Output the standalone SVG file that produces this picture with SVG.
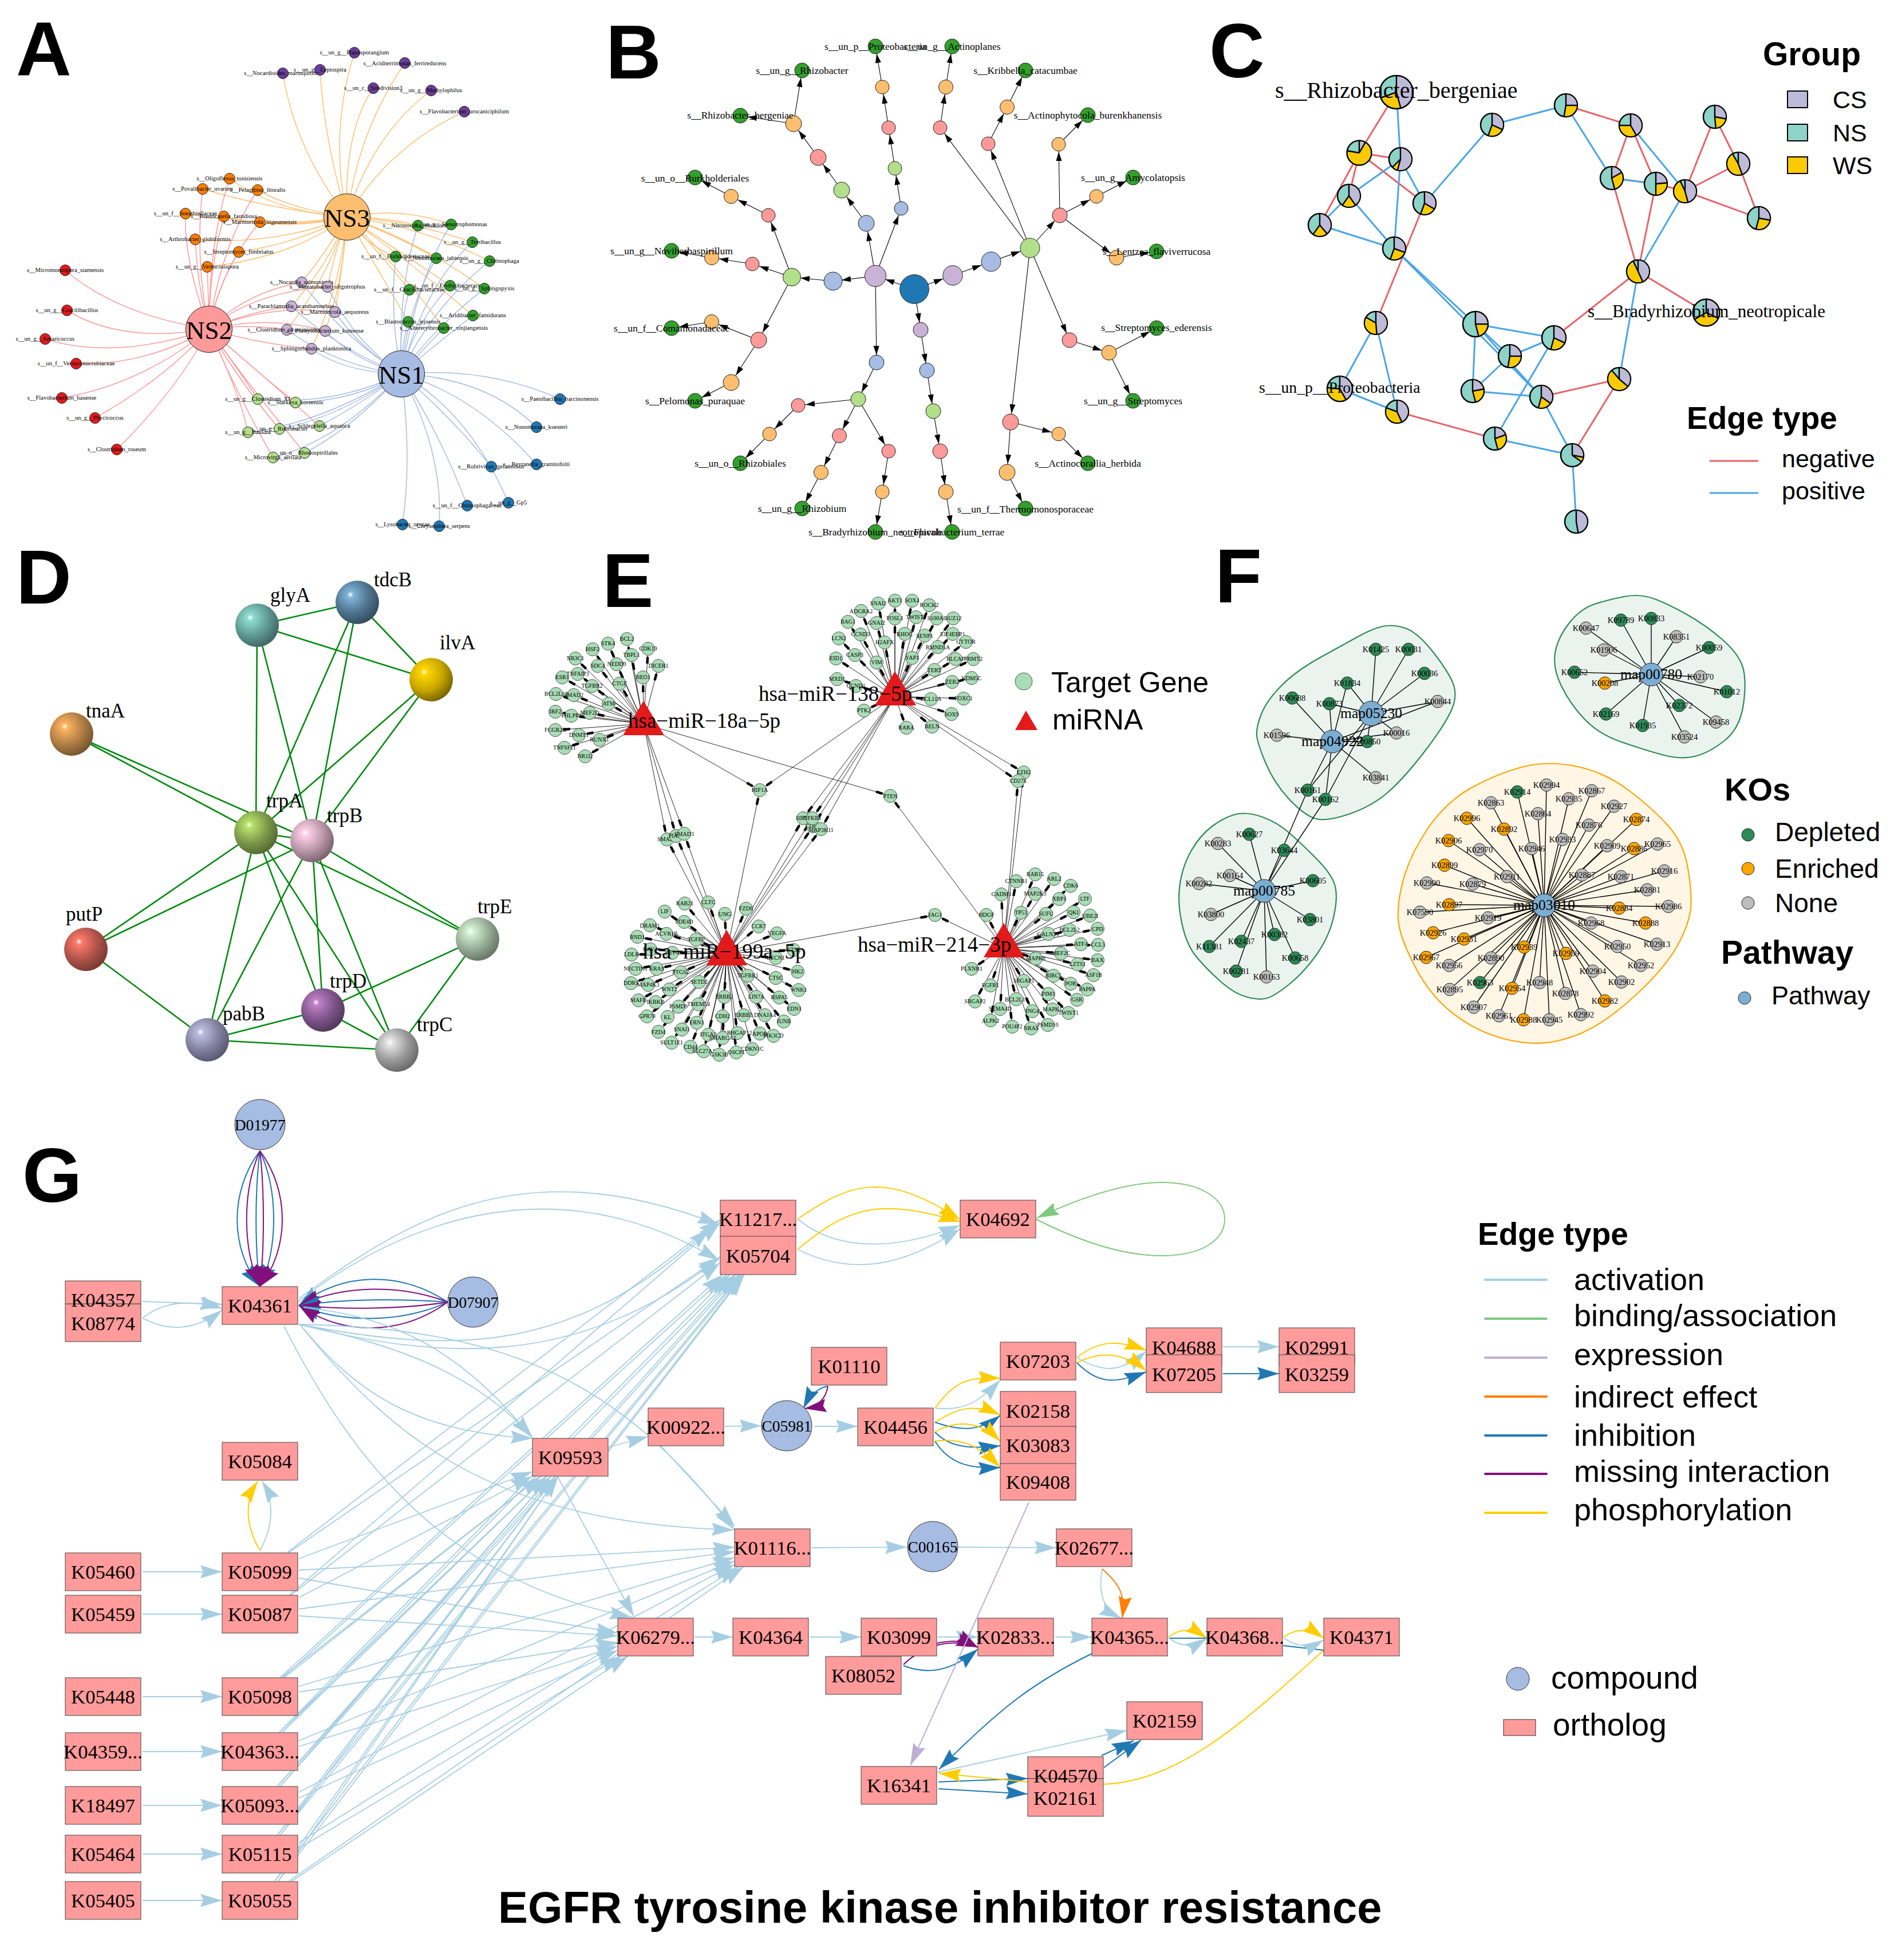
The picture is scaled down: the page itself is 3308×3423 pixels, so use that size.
<svg xmlns="http://www.w3.org/2000/svg" xmlns:xlink="http://www.w3.org/1999/xlink" width="3308" height="3423" viewBox="0 0 3308 3423">
<style>
text{font-family:"Liberation Serif","Times New Roman",serif;fill:#000;text-anchor:middle}
.s{font-family:"Liberation Sans",Arial,sans-serif;text-anchor:start}
.b{font-weight:700}
.L{font-size:134px;font-weight:700;font-family:"Liberation Sans",Arial,sans-serif;text-anchor:start}
path{fill:none}
circle{stroke:#222;stroke-width:1}
.a3{stroke:#FDBF6F;stroke-width:1.5}.a2{stroke:#FB9A99;stroke-width:1.5}.a1{stroke:#A6BCE3;stroke-width:1.5}
.at text{font-size:10.6px}.bt text{font-size:17.5px}.et text{font-size:10px}.ft text{font-size:14.5px}
.fo{fill:#FDBF6F}.fr{fill:#FB9A99}.fb{fill:#A6BCE3}.or{fill:#FF7F00}.gr{fill:#33A02C}.pu{fill:#6A3D9A}.re{fill:#E31A1C}.bl{fill:#1F78B4}.lp{fill:#CAB2D6}.lg{fill:#B2DF8A}
.bb{stroke:#000;stroke-width:1.1;marker-end:url(#mb)}.bc{stroke:#000;stroke-width:1.1;marker-end:url(#mc)}.bd{stroke:#000;stroke-width:1.1;marker-end:url(#md)}
.cn{stroke:#E8636A;stroke-width:3}.cp{stroke:#4AA5E8;stroke-width:3}
.pn{fill:#8DD3C7;stroke:#000;stroke-width:2.5;vector-effect:non-scaling-stroke}.pw{fill:none;stroke:#F9CB00;stroke-width:18.8}.pc{fill:none;stroke:#BEBADA;stroke-width:18.8}.sp{stroke:#000;stroke-width:2.4;vector-effect:non-scaling-stroke}
.d{stroke:#008A0E;stroke-width:2.6}
.dl{font-size:35px}
.e{stroke:#111;stroke-width:.9;marker-end:url(#me)}
.ec{fill:#A8DDB5;stroke:#555}
.et .el{font-size:37px;text-anchor:start}
.tr{fill:#E31A1C}
.f{stroke:#000;stroke-width:1.4}
.fd{fill:#2E8B57}.fe{fill:#FFA500}.fn{fill:#BEBEBE}.fh{fill:#7CADD2}
.ft .fm{font-size:25.6px}
.kg{fill:#EAF3EE;stroke:#2E8B57;stroke-width:2.2}.ko{fill:#FFF6E6;stroke:#FFA500;stroke-width:2.2}
.ga{stroke:#A6CEE3;stroke-width:1.8;marker-end:url(#ga)}.gy{stroke:#FFCC00;stroke-width:2;marker-end:url(#gy)}.gi{stroke:#1F78B4;stroke-width:2;marker-end:url(#gi)}.gm{stroke:#810F7C;stroke-width:2;marker-end:url(#gm)}.gg{stroke:#7FC97F;stroke-width:2;marker-end:url(#gg)}.go{stroke:#FF7F00;stroke-width:2;marker-end:url(#go)}.ge{stroke:#BEAED4;stroke-width:2;marker-end:url(#ge)}
.r{fill:#FF9B9B;stroke:#444;stroke-width:1}
.g text{font-size:34.7px}
.gc{fill:#A6BCE2;stroke:#333}
.lg1{font-size:54px}
</style>
<defs>
<marker id="mb" markerUnits="userSpaceOnUse" markerWidth="16" markerHeight="10" refX="29" refY="5" orient="auto" overflow="visible"><path d="M0 0L16 5L0 10Z" style="fill:#000"/></marker>
<marker id="mc" markerUnits="userSpaceOnUse" markerWidth="16" markerHeight="10" refX="31" refY="5" orient="auto" overflow="visible"><path d="M0 0L16 5L0 10Z" style="fill:#000"/></marker>
<marker id="md" markerUnits="userSpaceOnUse" markerWidth="16" markerHeight="10" refX="34" refY="5" orient="auto" overflow="visible"><path d="M0 0L16 5L0 10Z" style="fill:#000"/></marker>
<marker id="me" markerUnits="userSpaceOnUse" markerWidth="13" markerHeight="5" refX="26" refY="2.5" orient="auto" overflow="visible"><path d="M0 .3H11L13 2.5L11 4.7H0Z" style="fill:#000"/></marker>
<marker id="ga" markerUnits="userSpaceOnUse" markerWidth="38" markerHeight="23" refX="38" refY="11.5" orient="auto" overflow="visible"><path d="M0 0L38 11.5L0 23L5 11.5Z" style="fill:#A6CEE3"/></marker>
<marker id="gy" markerUnits="userSpaceOnUse" markerWidth="38" markerHeight="23" refX="38" refY="11.5" orient="auto" overflow="visible"><path d="M0 0L38 11.5L0 23L5 11.5Z" style="fill:#FFCC00"/></marker>
<marker id="gi" markerUnits="userSpaceOnUse" markerWidth="38" markerHeight="23" refX="38" refY="11.5" orient="auto" overflow="visible"><path d="M0 0L38 11.5L0 23L5 11.5Z" style="fill:#1F78B4"/></marker>
<marker id="gm" markerUnits="userSpaceOnUse" markerWidth="38" markerHeight="23" refX="38" refY="11.5" orient="auto" overflow="visible"><path d="M0 0L38 11.5L0 23L5 11.5Z" style="fill:#810F7C"/></marker>
<marker id="gg" markerUnits="userSpaceOnUse" markerWidth="38" markerHeight="23" refX="38" refY="11.5" orient="auto" overflow="visible"><path d="M0 0L38 11.5L0 23L5 11.5Z" style="fill:#7FC97F"/></marker>
<marker id="go" markerUnits="userSpaceOnUse" markerWidth="38" markerHeight="23" refX="38" refY="11.5" orient="auto" overflow="visible"><path d="M0 0L38 11.5L0 23L5 11.5Z" style="fill:#FF7F00"/></marker>
<marker id="ge" markerUnits="userSpaceOnUse" markerWidth="38" markerHeight="23" refX="38" refY="11.5" orient="auto" overflow="visible"><path d="M0 0L38 11.5L0 23L5 11.5Z" style="fill:#BEAED4"/></marker>
<path id="sp" class="sp" d="M0 0V-20"/>
<radialGradient id="s1" cx=".38" cy=".36" r=".72" fx=".34" fy=".32"><stop offset="0" stop-color="#fff"/><stop offset=".1" stop-color="#8fdcd0"/><stop offset=".55" stop-color="#5f9a95"/><stop offset="1" stop-color="#3a5d5b"/></radialGradient>
<radialGradient id="s2" cx=".38" cy=".36" r=".72" fx=".34" fy=".32"><stop offset="0" stop-color="#fff"/><stop offset=".1" stop-color="#80b4d8"/><stop offset=".55" stop-color="#4f7590"/><stop offset="1" stop-color="#2f4557"/></radialGradient>
<radialGradient id="s3" cx=".38" cy=".36" r=".72" fx=".34" fy=".32"><stop offset="0" stop-color="#fff"/><stop offset=".1" stop-color="#ffd700"/><stop offset=".55" stop-color="#c9a800"/><stop offset="1" stop-color="#6a5800"/></radialGradient>
<radialGradient id="s4" cx=".38" cy=".36" r=".72" fx=".34" fy=".32"><stop offset="0" stop-color="#fff"/><stop offset=".1" stop-color="#ffb35f"/><stop offset=".55" stop-color="#b07f45"/><stop offset="1" stop-color="#6b4d2a"/></radialGradient>
<radialGradient id="s5" cx=".38" cy=".36" r=".72" fx=".34" fy=".32"><stop offset="0" stop-color="#fff"/><stop offset=".1" stop-color="#b9e36a"/><stop offset=".55" stop-color="#7d9a4a"/><stop offset="1" stop-color="#4c5f2e"/></radialGradient>
<radialGradient id="s6" cx=".38" cy=".36" r=".72" fx=".34" fy=".32"><stop offset="0" stop-color="#fff"/><stop offset=".1" stop-color="#ffd0e8"/><stop offset=".55" stop-color="#bb98a9"/><stop offset="1" stop-color="#6d5866"/></radialGradient>
<radialGradient id="s7" cx=".38" cy=".36" r=".72" fx=".34" fy=".32"><stop offset="0" stop-color="#fff"/><stop offset=".1" stop-color="#ff7a6b"/><stop offset=".55" stop-color="#b0534a"/><stop offset="1" stop-color="#6d342d"/></radialGradient>
<radialGradient id="s8" cx=".38" cy=".36" r=".72" fx=".34" fy=".32"><stop offset="0" stop-color="#fff"/><stop offset=".1" stop-color="#d5f2d5"/><stop offset=".55" stop-color="#96ad96"/><stop offset="1" stop-color="#5c6b5c"/></radialGradient>
<radialGradient id="s9" cx=".38" cy=".36" r=".72" fx=".34" fy=".32"><stop offset="0" stop-color="#fff"/><stop offset=".1" stop-color="#c080c8"/><stop offset=".55" stop-color="#7d5489"/><stop offset="1" stop-color="#4a3353"/></radialGradient>
<radialGradient id="s10" cx=".38" cy=".36" r=".72" fx=".34" fy=".32"><stop offset="0" stop-color="#fff"/><stop offset=".1" stop-color="#bcbce0"/><stop offset=".55" stop-color="#82829f"/><stop offset="1" stop-color="#50506a"/></radialGradient>
<radialGradient id="s11" cx=".38" cy=".36" r=".72" fx=".34" fy=".32"><stop offset="0" stop-color="#fff"/><stop offset=".1" stop-color="#e4e4e4"/><stop offset=".55" stop-color="#9a9a9a"/><stop offset="1" stop-color="#606060"/></radialGradient>
</defs>
<rect width="3308" height="3423" fill="#fff"/>
<text class="L" x="28" y="132">A</text><text class="L" x="1058" y="137">B</text><text class="L" x="2112" y="135">C</text><text class="L" x="28" y="1054">D</text><text class="L" x="1052" y="1060">E</text><text class="L" x="2122" y="1052">F</text><text class="L" x="39" y="2099">G</text>

<g id="panelA">
<g id="A-connectors">
<g class="a3"><path d="M606 379Q515 260 494 128"/><path d="M606 379Q575 230 619 92"/><path d="M606 379Q565 240 559 122"/><path d="M606 379Q600 230 652 154"/><path d="M606 379Q625 230 707 110"/><path d="M606 379Q650 235 753 158"/><path d="M606 379Q680 255 811 195"/>
<path d="M606 379Q470 365 354 330"/><path d="M606 379Q510 365 450 332"/><path d="M606 379Q480 370 401 312"/><path d="M606 379Q470 400 324 373"/><path d="M606 379Q500 405 391 378"/><path d="M606 379Q530 395 454 388"/><path d="M606 379Q480 430 341 418"/><path d="M606 379Q520 425 417 440"/><path d="M606 379Q510 450 362 466"/>
<path d="M606 379Q680 380 730 394"/><path d="M606 379Q700 360 788 392"/><path d="M606 379Q715 385 825 423"/><path d="M606 379Q735 395 855 456"/><path d="M606 379Q640 430 691 448"/><path d="M606 379Q690 410 762 451"/><path d="M606 379Q700 440 786 499"/><path d="M606 379Q730 420 846 504"/><path d="M606 379Q660 440 715 506"/><path d="M606 379Q720 460 826 551"/><path d="M606 379Q660 470 713 562"/><path d="M606 379Q700 470 775 573"/>
<path d="M606 379Q570 440 527 493"/><path d="M606 379Q585 440 572 501"/><path d="M606 379Q575 460 509 535"/><path d="M606 379Q600 460 585 545"/><path d="M606 379Q570 490 501 576"/><path d="M606 379Q600 490 568 578"/><path d="M606 379Q595 500 544 609"/></g>
<g class="a2"><path d="M365 575Q321 456 324 373"/><path d="M365 575Q340 450 354 330"/><path d="M365 575Q365 420 401 312"/><path d="M365 575Q385 430 450 332"/><path d="M365 575Q365 470 391 378"/><path d="M365 575Q385 470 454 388"/><path d="M365 575Q345 500 341 418"/><path d="M365 575Q380 500 417 440"/><path d="M365 575Q364 520 362 466"/>
<path d="M365 575Q430 510 527 493"/><path d="M365 575Q440 510 572 501"/><path d="M365 575Q430 545 509 535"/><path d="M365 575Q470 530 585 545"/><path d="M365 575Q430 565 501 576"/><path d="M365 575Q470 550 568 578"/><path d="M365 575Q450 600 544 609"/>
<path d="M365 575Q420 650 450 697"/><path d="M365 575Q450 650 516 703"/><path d="M365 575Q470 665 558 744"/><path d="M365 575Q420 670 488 749"/><path d="M365 575Q420 690 433 755"/><path d="M365 575Q440 680 532 791"/><path d="M365 575Q420 700 477 799"/>
<path d="M365 575Q205 550 114 472"/><path d="M365 575Q210 600 117 542"/><path d="M365 575Q200 630 79 592"/><path d="M365 575Q250 640 133 635"/><path d="M365 575Q250 670 108 695"/><path d="M365 575Q290 660 166 730"/><path d="M365 575Q310 680 204 785"/></g>
<g class="a1"><path d="M701 653Q695 500 730 394"/><path d="M701 653Q730 480 788 392"/><path d="M701 653Q740 500 825 423"/><path d="M701 653Q750 540 855 456"/><path d="M701 653Q680 550 691 448"/><path d="M701 653Q710 540 762 451"/><path d="M701 653Q720 570 786 499"/><path d="M701 653Q750 580 846 504"/><path d="M701 653Q695 580 715 506"/><path d="M701 653Q750 610 826 551"/><path d="M701 653Q700 610 713 562"/><path d="M701 653Q725 625 775 573"/>
<path d="M701 653Q600 590 527 493"/><path d="M701 653Q620 600 572 501"/><path d="M701 653Q590 610 509 535"/><path d="M701 653Q630 610 585 545"/><path d="M701 653Q590 640 501 576"/><path d="M701 653Q620 630 568 578"/><path d="M701 653Q600 650 544 609"/>
<path d="M701 653Q580 710 450 697"/><path d="M701 653Q620 700 516 703"/><path d="M701 653Q640 700 558 744"/><path d="M701 653Q590 730 488 749"/><path d="M701 653Q560 740 433 755"/><path d="M701 653Q620 745 532 791"/><path d="M701 653Q590 770 477 799"/>
<path d="M701 653Q850 640 978 697"/><path d="M701 653Q850 660 937 746"/><path d="M701 653Q830 690 937 811"/><path d="M701 653Q790 730 858 815"/><path d="M701 653Q770 760 816 883"/><path d="M701 653Q820 720 888 878"/><path d="M701 653Q720 800 703 916"/><path d="M701 653Q775 790 767 919"/></g>
</g>
<g id="A-nodes" class="at">
<g id="A-NS3"><circle class="fo" cx="606" cy="379" r="40.6"/><text x="606" y="396" style="font-size:45px">NS3</text></g>
<g id="A-NS2"><circle class="fr" cx="365" cy="575" r="40.6"/><text x="365" y="592" style="font-size:45px">NS2</text></g>
<g id="A-NS1"><circle class="fb" cx="701" cy="653" r="40.6"/><text x="701" y="670" style="font-size:45px">NS1</text></g>
<g id="A-p1"><circle class="pu" cx="619" cy="92" r="9.5"/><text x="619" y="95">s__un_g__Planosporangium</text></g>
<g id="A-p2"><circle class="pu" cx="707" cy="110" r="9.5"/><text x="707" y="114">s__Aciditerrimonas_ferrireducens</text></g>
<g id="A-p3"><circle class="pu" cx="494" cy="128" r="9.5"/><text x="494" y="131">s__Nocardioides_marinquilinus</text></g>
<g id="A-p4"><circle class="pu" cx="559" cy="122" r="9.5"/><text x="559" y="125">s__un_g__Leptospira</text></g>
<g id="A-p5"><circle class="pu" cx="652" cy="154" r="9.5"/><text x="652" y="157">s__un_c__Subdivision3</text></g>
<g id="A-p6"><circle class="pu" cx="753" cy="158" r="9.5"/><text x="753" y="161">s__un_g__Methylophilus</text></g>
<g id="A-p7"><circle class="pu" cx="811" cy="195" r="9.5"/><text x="811" y="198">s__Flavobacterium_urocaniciphilum</text></g>
<g id="A-o1"><circle class="or" cx="401" cy="312" r="9.5"/><text x="401" y="315">s__Oligoflexus_tunisiensis</text></g>
<g id="A-o2"><circle class="or" cx="354" cy="330" r="9.5"/><text x="354" y="333">s__Povalibacter_uvarum</text></g>
<g id="A-o3"><circle class="or" cx="450" cy="332" r="9.5"/><text x="450" y="335">s__Pelagibius_litoralis</text></g>
<g id="A-o4"><circle class="or" cx="324" cy="373" r="9.5"/><text x="324" y="376">s__un_f__Sneathiellaceae</text></g>
<g id="A-o5"><circle class="or" cx="391" cy="378" r="9.5"/><text x="391" y="381">s__Blastocatella_fastidiosa</text></g>
<g id="A-o6"><circle class="or" cx="454" cy="388" r="9.5"/><text x="454" y="391">s__Marmoricola_bigeumensis</text></g>
<g id="A-o7"><circle class="or" cx="341" cy="418" r="9.5"/><text x="341" y="421">s__Arthrobacter_globiformis</text></g>
<g id="A-o8"><circle class="or" cx="417" cy="440" r="9.5"/><text x="417" y="443">s__Streptomyces_fimbriatus</text></g>
<g id="A-o9"><circle class="or" cx="362" cy="466" r="9.5"/><text x="362" y="469">s__un_g__Verrucosispora</text></g>
<g id="A-r1"><circle class="re" cx="114" cy="472" r="9.5"/><text x="114" y="475">s__Micromonospora_siamensis</text></g>
<g id="A-r2"><circle class="re" cx="117" cy="542" r="9.5"/><text x="117" y="545">s__un_g__Gracilibacillus</text></g>
<g id="A-r3"><circle class="re" cx="79" cy="592" r="9.5"/><text x="79" y="595">s__un_g__Amaricoccus</text></g>
<g id="A-r4"><circle class="re" cx="133" cy="635" r="9.5"/><text x="133" y="638">s__un_f__Verrucomicrobiaceae</text></g>
<g id="A-r5"><circle class="re" cx="108" cy="695" r="9.5"/><text x="108" y="698">s__Flavobacterium_hauense</text></g>
<g id="A-r6"><circle class="re" cx="166" cy="730" r="9.5"/><text x="166" y="733">s__un_g__Phycicoccus</text></g>
<g id="A-r7"><circle class="re" cx="204" cy="785" r="9.5"/><text x="204" y="788">s__Clostridium_roseum</text></g>
<g id="A-g1"><circle class="gr" cx="730" cy="394" r="9.5"/><text x="730" y="397">s__Nitrosospira_multiformis</text></g>
<g id="A-g2"><circle class="gr" cx="788" cy="392" r="9.5"/><text x="788" y="395">s__un_g__Stenotrophomonas</text></g>
<g id="A-g3"><circle class="gr" cx="825" cy="423" r="9.5"/><text x="825" y="426">s__un_g__Terribacillus</text></g>
<g id="A-g4"><circle class="gr" cx="855" cy="456" r="9.5"/><text x="855" y="459">s__un_g__Chitinophaga</text></g>
<g id="A-g5"><circle class="gr" cx="691" cy="448" r="9.5"/><text x="691" y="451">s__un_f__Burkholderiaceae</text></g>
<g id="A-g6"><circle class="gr" cx="762" cy="451" r="9.5"/><text x="762" y="454">s__Nonomuraea_jabiensis</text></g>
<g id="A-g7"><circle class="gr" cx="786" cy="499" r="9.5"/><text x="786" y="502">s__un_f__Erythrobacteraceae</text></g>
<g id="A-g8"><circle class="gr" cx="846" cy="504" r="9.5"/><text x="846" y="507">s__un_g__Sphingopyxis</text></g>
<g id="A-g9"><circle class="gr" cx="715" cy="506" r="9.5"/><text x="715" y="509">s__un_f__Gracilibacteraceae</text></g>
<g id="A-g10"><circle class="gr" cx="826" cy="551" r="9.5"/><text x="826" y="554">s__Aridibacter_famidurans</text></g>
<g id="A-g11"><circle class="gr" cx="713" cy="562" r="9.5"/><text x="713" y="565">s__Blastococcus_jejuensis</text></g>
<g id="A-g12"><circle class="gr" cx="775" cy="573" r="9.5"/><text x="775" y="576">s__Altererythrobacter_xinjiangensis</text></g>
<g id="A-l1"><circle class="lp" cx="527" cy="493" r="9.5"/><text x="527" y="496">s__Nocardia_salmonicida</text></g>
<g id="A-l2"><circle class="lp" cx="572" cy="501" r="9.5"/><text x="572" y="504">s__Phreatobacter_oligotrophus</text></g>
<g id="A-l3"><circle class="lp" cx="509" cy="535" r="9.5"/><text x="509" y="538">s__Parachlamydia_acanthamoebae</text></g>
<g id="A-l4"><circle class="lp" cx="585" cy="545" r="9.5"/><text x="585" y="548">s__Marmoricola_aequoreus</text></g>
<g id="A-l5"><circle class="lp" cx="501" cy="576" r="9.5"/><text x="501" y="579">s__Clostridium_straminisolvens</text></g>
<g id="A-l6"><circle class="lp" cx="568" cy="578" r="9.5"/><text x="568" y="581">s__Phenylobacterium_koreense</text></g>
<g id="A-l7"><circle class="lp" cx="544" cy="609" r="9.5"/><text x="544" y="612">s__Sphingorhabdus_planktonica</text></g>
<g id="A-h1"><circle class="lg" cx="450" cy="697" r="9.5"/><text x="450" y="700">s__un_g__Clostridium_XI</text></g>
<g id="A-h2"><circle class="lg" cx="516" cy="703" r="9.5"/><text x="516" y="706">s__Starkeya_koreensis</text></g>
<g id="A-h3"><circle class="lg" cx="558" cy="744" r="9.5"/><text x="558" y="747">s__Schlegelella_aquatica</text></g>
<g id="A-h4"><circle class="lg" cx="488" cy="749" r="9.5"/><text x="488" y="752">s__un_g__Rubrobacter</text></g>
<g id="A-h5"><circle class="lg" cx="433" cy="755" r="9.5"/><text x="433" y="758">s__un_g__Bauldia</text></g>
<g id="A-h6"><circle class="lg" cx="532" cy="791" r="9.5"/><text x="532" y="794">s__un_o__Rhodospirillales</text></g>
<g id="A-h7"><circle class="lg" cx="477" cy="799" r="9.5"/><text x="477" y="802">s__Microvirga_aerilata</text></g>
<g id="A-b1"><circle class="bl" cx="978" cy="697" r="9.5"/><text x="978" y="700">s__Paenibacillus_barcinonensis</text></g>
<g id="A-b2"><circle class="bl" cx="937" cy="746" r="9.5"/><text x="937" y="749">s__Nonomuraea_kuesteri</text></g>
<g id="A-b3"><circle class="bl" cx="937" cy="811" r="9.5"/><text x="937" y="814">s__Reyranella_graminifolii</text></g>
<g id="A-b4"><circle class="bl" cx="858" cy="815" r="9.5"/><text x="858" y="818">s__Rubrivivax_gelatinosus</text></g>
<g id="A-b5"><circle class="bl" cx="816" cy="883" r="9.5"/><text x="816" y="886">s__un_f__Chitinophagaceae</text></g>
<g id="A-b6"><circle class="bl" cx="888" cy="878" r="9.5"/><text x="888" y="881">s__un_g__Gp5</text></g>
<g id="A-b7"><circle class="bl" cx="703" cy="916" r="9.5"/><text x="703" y="919">s__Lysobacter_oryzae</text></g>
<g id="A-b8"><circle class="bl" cx="767" cy="919" r="9.5"/><text x="767" y="922">s__Chryseolinea_serpens</text></g>
</g>
</g>

<g id="panelB">
<g id="B-connectors">
<path class="bd" d="M1597 505L1529 482"/><path class="bd" d="M1597 505L1664 481"/><path class="bb" d="M1597 505L1608 576"/>
<path class="bc" d="M1529 482L1455 491"/><path class="bc" d="M1529 482L1513 390"/><path class="bb" d="M1529 482L1574 364"/><path class="bb" d="M1529 482L1531 633"/><path class="bd" d="M1664 481L1731 457"/><path class="bb" d="M1608 576L1619 647"/>
<path class="bc" d="M1455 491L1383 484"/><path class="bc" d="M1513 390L1470 332"/><path class="bb" d="M1574 364L1563 294"/><path class="bb" d="M1531 633L1499 697"/><path class="bb" d="M1619 647L1630 718"/><path class="bd" d="M1731 457L1799 433"/>
<path class="bb" d="M1383 484L1314 461"/><path class="bb" d="M1383 484L1342 376"/><path class="bc" d="M1383 484L1325 594"/><path class="bc" d="M1470 332L1429 275"/><path class="bb" d="M1563 294L1552 223"/><path class="bb" d="M1499 697L1394 708"/><path class="bb" d="M1499 697L1466 761"/><path class="bb" d="M1499 697L1552 788"/><path class="bb" d="M1630 718L1642 788"/>
<path class="bb" d="M1799 433L1642 223"/><path class="bb" d="M1799 433L1726 251"/><path class="bb" d="M1799 433L1851 376"/><path class="bb" d="M1799 433L1868 594"/><path class="bc" d="M1799 433L1765 737"/>
<path class="bb" d="M1314 461L1243 450"/><path class="bb" d="M1342 376L1277 343"/><path class="bb" d="M1325 594L1243 562"/><path class="bc" d="M1325 594L1277 668"/><path class="bc" d="M1429 275L1386 216"/><path class="bb" d="M1552 223L1541 152"/><path class="bb" d="M1642 223L1652 152"/><path class="bb" d="M1726 251L1759 187"/><path class="bb" d="M1851 376L1849 252"/><path class="bb" d="M1851 376L1915 343"/><path class="bb" d="M1851 376L1950 450"/><path class="bb" d="M1868 594L1937 616"/><path class="bb" d="M1765 737L1849 758"/><path class="bc" d="M1765 737L1759 825"/><path class="bb" d="M1394 708L1344 758"/><path class="bb" d="M1466 761L1434 825"/><path class="bb" d="M1552 788L1541 859"/><path class="bb" d="M1642 788L1652 859"/>
<path class="bb" d="M1243 450L1173 438"/><path class="bb" d="M1277 343L1214 310"/><path class="bb" d="M1243 562L1173 573"/><path class="bb" d="M1277 668L1214 700"/><path class="bb" d="M1386 216L1293 202"/><path class="bb" d="M1386 216L1401 123"/><path class="bb" d="M1541 152L1529 81"/><path class="bb" d="M1652 152L1663 81"/><path class="bb" d="M1759 187L1791 123"/><path class="bb" d="M1849 252L1900 201"/><path class="bb" d="M1915 343L1979 310"/><path class="bb" d="M1950 450L2020 439"/><path class="bb" d="M1937 616L2020 573"/><path class="bb" d="M1937 616L1979 700"/><path class="bb" d="M1849 758L1900 809"/><path class="bb" d="M1759 825L1791 888"/><path class="bb" d="M1652 859L1663 929"/><path class="bb" d="M1541 859L1529 929"/><path class="bb" d="M1434 825L1401 888"/><path class="bb" d="M1344 758L1293 809"/>
</g>
<g id="B-nodes" class="bt">
<g id="B-root"><circle class="bl" cx="1597" cy="505" r="25.3"/></g>
<g id="B-p1"><circle class="lp" cx="1529" cy="482" r="18.6"/></g><g id="B-p2"><circle class="lp" cx="1664" cy="481" r="17.2"/></g><g id="B-p3"><circle class="lp" cx="1608" cy="576" r="13"/></g>
<g id="B-l1"><circle class="fb" cx="1455" cy="491" r="16"/></g><g id="B-l2"><circle class="fb" cx="1513" cy="390" r="14"/></g><g id="B-l3"><circle class="fb" cx="1574" cy="364" r="12"/></g><g id="B-l4"><circle class="fb" cx="1531" cy="633" r="13"/></g><g id="B-l5"><circle class="fb" cx="1619" cy="647" r="13"/></g><g id="B-l6"><circle class="fb" cx="1731" cy="457" r="17"/></g>
<g id="B-g1"><circle class="lg" cx="1383" cy="484" r="15.5"/></g><g id="B-g2"><circle class="lg" cx="1470" cy="332" r="14"/></g><g id="B-g3"><circle class="lg" cx="1563" cy="294" r="12"/></g><g id="B-g4"><circle class="lg" cx="1499" cy="697" r="13"/></g><g id="B-g5"><circle class="lg" cx="1630" cy="718" r="13"/></g><g id="B-g6"><circle class="lg" cx="1799" cy="433" r="17"/></g>
<g id="B-r1"><circle class="fr" cx="1314" cy="461" r="12"/></g><g id="B-r2"><circle class="fr" cx="1342" cy="376" r="12"/></g><g id="B-r3"><circle class="fr" cx="1325" cy="594" r="14"/></g><g id="B-r4"><circle class="fr" cx="1429" cy="275" r="14"/></g><g id="B-r5"><circle class="fr" cx="1552" cy="223" r="12"/></g><g id="B-r6"><circle class="fr" cx="1642" cy="223" r="12"/></g><g id="B-r7"><circle class="fr" cx="1726" cy="251" r="12"/></g><g id="B-r8"><circle class="fr" cx="1851" cy="376" r="13"/></g><g id="B-r9"><circle class="fr" cx="1868" cy="594" r="13"/></g><g id="B-r10"><circle class="fr" cx="1765" cy="737" r="14"/></g><g id="B-r11"><circle class="fr" cx="1394" cy="708" r="12"/></g><g id="B-r12"><circle class="fr" cx="1466" cy="761" r="12.5"/></g><g id="B-r13"><circle class="fr" cx="1552" cy="788" r="12"/></g><g id="B-r14"><circle class="fr" cx="1642" cy="788" r="13"/></g>
<g id="B-o1"><circle class="fo" cx="1243" cy="450" r="12.5"/></g><g id="B-o2"><circle class="fo" cx="1277" cy="343" r="12.5"/></g><g id="B-o3"><circle class="fo" cx="1243" cy="562" r="12.5"/></g><g id="B-o4"><circle class="fo" cx="1277" cy="668" r="14"/></g><g id="B-o5"><circle class="fo" cx="1386" cy="216" r="14"/></g><g id="B-o6"><circle class="fo" cx="1541" cy="152" r="12"/></g><g id="B-o7"><circle class="fo" cx="1652" cy="152" r="12.5"/></g><g id="B-o8"><circle class="fo" cx="1759" cy="187" r="12.5"/></g><g id="B-o9"><circle class="fo" cx="1849" cy="252" r="12"/></g><g id="B-o10"><circle class="fo" cx="1915" cy="343" r="12"/></g><g id="B-o11"><circle class="fo" cx="1950" cy="450" r="13"/></g><g id="B-o12"><circle class="fo" cx="1937" cy="616" r="13"/></g><g id="B-o13"><circle class="fo" cx="1849" cy="758" r="12"/></g><g id="B-o14"><circle class="fo" cx="1759" cy="825" r="14"/></g><g id="B-o15"><circle class="fo" cx="1652" cy="859" r="13"/></g><g id="B-o16"><circle class="fo" cx="1541" cy="859" r="12"/></g><g id="B-o17"><circle class="fo" cx="1434" cy="825" r="12.5"/></g><g id="B-o18"><circle class="fo" cx="1344" cy="758" r="12"/></g>
<g id="B-t1"><circle class="gr" cx="1173" cy="438" r="13"/><text x="1173" y="444">s__un_g__Noviherbaspirillum</text></g>
<g id="B-t2"><circle class="gr" cx="1214" cy="310" r="13"/><text x="1214" y="317">s__un_o__Burkholderiales</text></g>
<g id="B-t3"><circle class="gr" cx="1173" cy="573" r="13"/><text x="1173" y="579">s__un_f__Comamonadaceae</text></g>
<g id="B-t4"><circle class="gr" cx="1214" cy="700" r="13"/><text x="1214" y="706">s__Pelomonas_puraquae</text></g>
<g id="B-t5"><circle class="gr" cx="1293" cy="202" r="13"/><text x="1293" y="207">s__Rhizobacter_bergeniae</text></g>
<g id="B-t6"><circle class="gr" cx="1401" cy="123" r="13"/><text x="1401" y="129">s__un_g__Rhizobacter</text></g>
<g id="B-t7"><circle class="gr" cx="1529" cy="81" r="13"/><text x="1529" y="87">s__un_p__Proteobacteria</text></g>
<g id="B-t8"><circle class="gr" cx="1663" cy="81" r="13"/><text x="1663" y="87">s__un_g__Actinoplanes</text></g>
<g id="B-t9"><circle class="gr" cx="1791" cy="123" r="13"/><text x="1791" y="129">s__Kribbella_catacumbae</text></g>
<g id="B-t10"><circle class="gr" cx="1900" cy="201" r="13"/><text x="1900" y="207">s__Actinophytocola_burenkhanensis</text></g>
<g id="B-t11"><circle class="gr" cx="1979" cy="310" r="13"/><text x="1979" y="316">s__un_g__Amycolatopsis</text></g>
<g id="B-t12"><circle class="gr" cx="2020" cy="439" r="13"/><text x="2020" y="445">s__Lentzea_flaviverrucosa</text></g>
<g id="B-t13"><circle class="gr" cx="2020" cy="573" r="13"/><text x="2020" y="578">s__Streptomyces_ederensis</text></g>
<g id="B-t14"><circle class="gr" cx="1979" cy="700" r="13"/><text x="1979" y="706">s__un_g__Streptomyces</text></g>
<g id="B-t15"><circle class="gr" cx="1900" cy="809" r="13"/><text x="1900" y="815">s__Actinocorallia_herbida</text></g>
<g id="B-t16"><circle class="gr" cx="1791" cy="888" r="13"/><text x="1791" y="895">s__un_f__Thermomonosporaceae</text></g>
<g id="B-t17"><circle class="gr" cx="1663" cy="929" r="13"/><text x="1663" y="935">s__Flavobacterium_terrae</text></g>
<g id="B-t18"><circle class="gr" cx="1529" cy="929" r="13"/><text x="1529" y="935">s__Bradyrhizobium_neotropicale</text></g>
<g id="B-t19"><circle class="gr" cx="1401" cy="888" r="13"/><text x="1401" y="894">s__un_g__Rhizobium</text></g>
<g id="B-t20"><circle class="gr" cx="1293" cy="809" r="13"/><text x="1293" y="815">s__un_o__Rhizobiales</text></g>
</g>
</g>

<g id="panelC">
<g id="C-connectors">
<path class="cn" d="M2439 161L2374 267"/><path class="cn" d="M2374 267L2446 278"/><path class="cn" d="M2374 267L2356 342"/><path class="cn" d="M2374 267L2305 393"/><path class="cn" d="M2374 267L2488 355"/><path class="cn" d="M2488 355L2403 564"/><path class="cn" d="M2735 184L2848 219"/><path class="cn" d="M2848 219L2815 311"/><path class="cn" d="M2848 219L2892 321"/><path class="cn" d="M2815 311L2892 321"/><path class="cn" d="M2892 321L2943 334"/><path class="cn" d="M2943 334L3036 286"/><path class="cn" d="M2943 334L3072 381"/><path class="cn" d="M2995 204L2943 334"/><path class="cn" d="M2995 204L3036 286"/><path class="cn" d="M3036 286L3072 381"/><path class="cn" d="M2815 311L2861 474"/><path class="cn" d="M2892 321L2861 474"/><path class="cn" d="M2861 474L2980 546"/><path class="cn" d="M2861 474L2714 590"/><path class="cn" d="M2692 693L2828 662"/><path class="cn" d="M2828 662L2746 795"/><path class="cn" d="M2440 719L2611 766"/>
<path class="cp" d="M2439 161L2446 278"/><path class="cp" d="M2446 278L2435 434"/><path class="cp" d="M2446 278L2356 342"/><path class="cp" d="M2446 278L2488 355"/><path class="cp" d="M2356 342L2305 393"/><path class="cp" d="M2356 342L2435 434"/><path class="cp" d="M2305 393L2435 434"/><path class="cp" d="M2488 355L2606 218"/><path class="cp" d="M2606 218L2735 184"/><path class="cp" d="M2735 184L2815 311"/><path class="cp" d="M2848 219L2943 334"/><path class="cp" d="M2815 311L2892 321"/><path class="cp" d="M2943 334L2861 474"/><path class="cp" d="M2435 434L2577 566"/><path class="cp" d="M2435 434L2692 693"/><path class="cp" d="M2577 566L2714 590"/><path class="cp" d="M2577 566L2637 622"/><path class="cp" d="M2577 566L2572 683"/><path class="cp" d="M2577 566L2692 693"/><path class="cp" d="M2637 622L2714 590"/><path class="cp" d="M2637 622L2572 683"/><path class="cp" d="M2572 683L2692 693"/><path class="cp" d="M2714 590L2611 766"/><path class="cp" d="M2692 693L2746 795"/><path class="cp" d="M2611 766L2746 795"/><path class="cp" d="M2746 795L2753 911"/><path class="cp" d="M2861 474L2828 662"/><path class="cp" d="M2403 564L2340 679"/><path class="cp" d="M2403 564L2440 719"/><path class="cp" d="M2340 679L2440 719"/>
</g>
<g id="C-nodes">
<g id="C-n1" transform="translate(2439 161) scale(1.45)"><circle class="pn" r="20"/><circle class="pw" r="9.4" pathLength="360" stroke-dasharray="250 360" transform="rotate(-90)"/><circle class="pc" r="9.4" pathLength="360" stroke-dasharray="165 360" transform="rotate(-90)"/><use href="#sp"/><use href="#sp" transform="rotate(165)"/><use href="#sp" transform="rotate(250)"/></g>
<g id="C-n2" transform="translate(2374 267) scale(1.07)"><circle class="pn" r="20"/><circle class="pw" r="9.4" pathLength="360" stroke-dasharray="280 360" transform="rotate(-90)"/><circle class="pc" r="9.4" pathLength="360" stroke-dasharray="30 360" transform="rotate(-90)"/><use href="#sp"/><use href="#sp" transform="rotate(30)"/><use href="#sp" transform="rotate(280)"/></g>
<g id="C-n3" transform="translate(2446 278)"><circle class="pn" r="20"/><circle class="pw" r="9.4" pathLength="360" stroke-dasharray="225 360" transform="rotate(-90)"/><circle class="pc" r="9.4" pathLength="360" stroke-dasharray="195 360" transform="rotate(-90)"/><use href="#sp"/><use href="#sp" transform="rotate(195)"/><use href="#sp" transform="rotate(225)"/></g>
<g id="C-n4" transform="translate(2356 342)"><circle class="pn" r="20"/><circle class="pw" r="9.4" pathLength="360" stroke-dasharray="215 360" transform="rotate(-90)"/><circle class="pc" r="9.4" pathLength="360" stroke-dasharray="145 360" transform="rotate(-90)"/><use href="#sp"/><use href="#sp" transform="rotate(145)"/><use href="#sp" transform="rotate(215)"/></g>
<g id="C-n5" transform="translate(2488 355)"><circle class="pn" r="20"/><circle class="pw" r="9.4" pathLength="360" stroke-dasharray="200 360" transform="rotate(-90)"/><circle class="pc" r="9.4" pathLength="360" stroke-dasharray="120 360" transform="rotate(-90)"/><use href="#sp"/><use href="#sp" transform="rotate(120)"/><use href="#sp" transform="rotate(200)"/></g>
<g id="C-n6" transform="translate(2305 393)"><circle class="pn" r="20"/><circle class="pw" r="9.4" pathLength="360" stroke-dasharray="215 360" transform="rotate(-90)"/><circle class="pc" r="9.4" pathLength="360" stroke-dasharray="140 360" transform="rotate(-90)"/><use href="#sp"/><use href="#sp" transform="rotate(140)"/><use href="#sp" transform="rotate(215)"/></g>
<g id="C-n7" transform="translate(2435 434)"><circle class="pn" r="20"/><circle class="pw" r="9.4" pathLength="360" stroke-dasharray="200 360" transform="rotate(-90)"/><circle class="pc" r="9.4" pathLength="360" stroke-dasharray="110 360" transform="rotate(-90)"/><use href="#sp"/><use href="#sp" transform="rotate(110)"/><use href="#sp" transform="rotate(200)"/></g>
<g id="C-n8" transform="translate(2606 218)"><circle class="pn" r="20"/><circle class="pw" r="9.4" pathLength="360" stroke-dasharray="200 360" transform="rotate(-90)"/><circle class="pc" r="9.4" pathLength="360" stroke-dasharray="115 360" transform="rotate(-90)"/><use href="#sp"/><use href="#sp" transform="rotate(115)"/><use href="#sp" transform="rotate(200)"/></g>
<g id="C-n9" transform="translate(2735 184)"><circle class="pn" r="20"/><circle class="pw" r="9.4" pathLength="360" stroke-dasharray="190 360" transform="rotate(-90)"/><circle class="pc" r="9.4" pathLength="360" stroke-dasharray="90 360" transform="rotate(-90)"/><use href="#sp"/><use href="#sp" transform="rotate(90)"/><use href="#sp" transform="rotate(190)"/></g>
<g id="C-n10" transform="translate(2848 219)"><circle class="pn" r="20"/><circle class="pw" r="9.4" pathLength="360" stroke-dasharray="270 360" transform="rotate(-90)"/><circle class="pc" r="9.4" pathLength="360" stroke-dasharray="150 360" transform="rotate(-90)"/><use href="#sp"/><use href="#sp" transform="rotate(150)"/><use href="#sp" transform="rotate(270)"/></g>
<g id="C-n11" transform="translate(2995 204)"><circle class="pn" r="20"/><circle class="pw" r="9.4" pathLength="360" stroke-dasharray="175 360" transform="rotate(-90)"/><circle class="pc" r="9.4" pathLength="360" stroke-dasharray="100 360" transform="rotate(-90)"/><use href="#sp"/><use href="#sp" transform="rotate(100)"/><use href="#sp" transform="rotate(175)"/></g>
<g id="C-n12" transform="translate(3036 286)"><circle class="pn" r="20"/><circle class="pw" r="9.4" pathLength="360" stroke-dasharray="330 360" transform="rotate(-90)"/><circle class="pc" r="9.4" pathLength="360" stroke-dasharray="160 360" transform="rotate(-90)"/><use href="#sp"/><use href="#sp" transform="rotate(160)"/><use href="#sp" transform="rotate(330)"/></g>
<g id="C-n13" transform="translate(2815 311)"><circle class="pn" r="20"/><circle class="pw" r="9.4" pathLength="360" stroke-dasharray="165 360" transform="rotate(-90)"/><circle class="pc" r="9.4" pathLength="360" stroke-dasharray="60 360" transform="rotate(-90)"/><use href="#sp"/><use href="#sp" transform="rotate(60)"/><use href="#sp" transform="rotate(165)"/></g>
<g id="C-n14" transform="translate(2892 321)"><circle class="pn" r="20"/><circle class="pw" r="9.4" pathLength="360" stroke-dasharray="180 360" transform="rotate(-90)"/><circle class="pc" r="9.4" pathLength="360" stroke-dasharray="85 360" transform="rotate(-90)"/><use href="#sp"/><use href="#sp" transform="rotate(85)"/><use href="#sp" transform="rotate(180)"/></g>
<g id="C-n15" transform="translate(2943 334)"><circle class="pn" r="20"/><circle class="pw" r="9.4" pathLength="360" stroke-dasharray="335 360" transform="rotate(-90)"/><circle class="pc" r="9.4" pathLength="360" stroke-dasharray="165 360" transform="rotate(-90)"/><use href="#sp"/><use href="#sp" transform="rotate(165)"/><use href="#sp" transform="rotate(335)"/></g>
<g id="C-n16" transform="translate(3072 381)"><circle class="pn" r="20"/><circle class="pw" r="9.4" pathLength="360" stroke-dasharray="195 360" transform="rotate(-90)"/><circle class="pc" r="9.4" pathLength="360" stroke-dasharray="100 360" transform="rotate(-90)"/><use href="#sp"/><use href="#sp" transform="rotate(100)"/><use href="#sp" transform="rotate(195)"/></g>
<g id="C-n17" transform="translate(2861 474)"><circle class="pn" r="20"/><circle class="pw" r="9.4" pathLength="360" stroke-dasharray="335 360" transform="rotate(-90)"/><circle class="pc" r="9.4" pathLength="360" stroke-dasharray="155 360" transform="rotate(-90)"/><use href="#sp"/><use href="#sp" transform="rotate(155)"/><use href="#sp" transform="rotate(335)"/></g>
<g id="C-n18" transform="translate(2980 546) scale(1.17)"><circle class="pn" r="20"/><circle class="pw" r="9.4" pathLength="360" stroke-dasharray="240 360" transform="rotate(-90)"/><circle class="pc" r="9.4" pathLength="360" stroke-dasharray="115 360" transform="rotate(-90)"/><use href="#sp"/><use href="#sp" transform="rotate(115)"/><use href="#sp" transform="rotate(240)"/></g>
<g id="C-n19" transform="translate(2403 564)"><circle class="pn" r="20"/><circle class="pw" r="9.4" pathLength="360" stroke-dasharray="300 360" transform="rotate(-90)"/><circle class="pc" r="9.4" pathLength="360" stroke-dasharray="175 360" transform="rotate(-90)"/><use href="#sp"/><use href="#sp" transform="rotate(175)"/><use href="#sp" transform="rotate(300)"/></g>
<g id="C-n20" transform="translate(2577 566) scale(1.1)"><circle class="pn" r="20"/><circle class="pw" r="9.4" pathLength="360" stroke-dasharray="165 360" transform="rotate(-90)"/><circle class="pc" r="9.4" pathLength="360" stroke-dasharray="90 360" transform="rotate(-90)"/><use href="#sp"/><use href="#sp" transform="rotate(90)"/><use href="#sp" transform="rotate(165)"/></g>
<g id="C-n21" transform="translate(2714 590) scale(1.05)"><circle class="pn" r="20"/><circle class="pw" r="9.4" pathLength="360" stroke-dasharray="195 360" transform="rotate(-90)"/><circle class="pc" r="9.4" pathLength="360" stroke-dasharray="115 360" transform="rotate(-90)"/><use href="#sp"/><use href="#sp" transform="rotate(115)"/><use href="#sp" transform="rotate(195)"/></g>
<g id="C-n22" transform="translate(2637 622)"><circle class="pn" r="20"/><circle class="pw" r="9.4" pathLength="360" stroke-dasharray="190 360" transform="rotate(-90)"/><circle class="pc" r="9.4" pathLength="360" stroke-dasharray="90 360" transform="rotate(-90)"/><use href="#sp"/><use href="#sp" transform="rotate(90)"/><use href="#sp" transform="rotate(190)"/></g>
<g id="C-n23" transform="translate(2828 662)"><circle class="pn" r="20"/><circle class="pw" r="9.4" pathLength="360" stroke-dasharray="320 360" transform="rotate(-90)"/><circle class="pc" r="9.4" pathLength="360" stroke-dasharray="130 360" transform="rotate(-90)"/><use href="#sp"/><use href="#sp" transform="rotate(130)"/><use href="#sp" transform="rotate(320)"/></g>
<g id="C-n24" transform="translate(2572 683)"><circle class="pn" r="20"/><circle class="pw" r="9.4" pathLength="360" stroke-dasharray="165 360" transform="rotate(-90)"/><circle class="pc" r="9.4" pathLength="360" stroke-dasharray="80 360" transform="rotate(-90)"/><use href="#sp"/><use href="#sp" transform="rotate(80)"/><use href="#sp" transform="rotate(165)"/></g>
<g id="C-n25" transform="translate(2692 693)"><circle class="pn" r="20"/><circle class="pw" r="9.4" pathLength="360" stroke-dasharray="195 360" transform="rotate(-90)"/><circle class="pc" r="9.4" pathLength="360" stroke-dasharray="125 360" transform="rotate(-90)"/><use href="#sp"/><use href="#sp" transform="rotate(125)"/><use href="#sp" transform="rotate(195)"/></g>
<g id="C-n26" transform="translate(2340 679) scale(1.1)"><circle class="pn" r="20"/><circle class="pw" r="9.4" pathLength="360" stroke-dasharray="275 360" transform="rotate(-90)"/><circle class="pc" r="9.4" pathLength="360" stroke-dasharray="150 360" transform="rotate(-90)"/><use href="#sp"/><use href="#sp" transform="rotate(150)"/><use href="#sp" transform="rotate(275)"/></g>
<g id="C-n27" transform="translate(2440 719)"><circle class="pn" r="20"/><circle class="pw" r="9.4" pathLength="360" stroke-dasharray="290 360" transform="rotate(-90)"/><circle class="pc" r="9.4" pathLength="360" stroke-dasharray="155 360" transform="rotate(-90)"/><use href="#sp"/><use href="#sp" transform="rotate(155)"/><use href="#sp" transform="rotate(290)"/></g>
<g id="C-n28" transform="translate(2611 766)"><circle class="pn" r="20"/><circle class="pw" r="9.4" pathLength="360" stroke-dasharray="165 360" transform="rotate(-90)"/><circle class="pc" r="9.4" pathLength="360" stroke-dasharray="70 360" transform="rotate(-90)"/><use href="#sp"/><use href="#sp" transform="rotate(70)"/><use href="#sp" transform="rotate(165)"/></g>
<g id="C-n29" transform="translate(2746 795)"><circle class="pn" r="20"/><circle class="pw" r="9.4" pathLength="360" stroke-dasharray="125 360" transform="rotate(-90)"/><circle class="pc" r="9.4" pathLength="360" stroke-dasharray="100 360" transform="rotate(-90)"/><use href="#sp"/><use href="#sp" transform="rotate(100)"/><use href="#sp" transform="rotate(125)"/></g>
<g id="C-n30" transform="translate(2753 911)"><circle class="pn" r="20"/><circle class="pc" r="9.4" pathLength="360" stroke-dasharray="170 360" transform="rotate(-90)"/><use href="#sp"/><use href="#sp" transform="rotate(170)"/></g>
<text x="2227" y="171" style="font-size:40px;text-anchor:start">s__Rhizobacter_bergeniae</text>
<text x="2773" y="554" style="font-size:31px;text-anchor:start">s__Bradyrhizobium_neotropicale</text>
<text x="2199" y="686" style="font-size:27.7px;text-anchor:start">s__un_p__Proteobacteria</text>
</g>
<g id="C-legend">
<text class="s b" x="3079" y="114" style="font-size:57px">Group</text>
<rect x="3122" y="159" width="35" height="29" fill="#BEBADA" stroke="#000" stroke-width="2"/><rect x="3122" y="217" width="35" height="29" fill="#8DD3C7" stroke="#000" stroke-width="2"/><rect x="3122" y="274" width="35" height="29" fill="#F9CB00" stroke="#000" stroke-width="2"/>
<text class="s" x="3201" y="189" style="font-size:43px">CS</text><text class="s" x="3201" y="247" style="font-size:43px">NS</text><text class="s" x="3201" y="304" style="font-size:43px">WS</text>
<text class="s b" x="2946" y="749" style="font-size:55px">Edge type</text>
<path class="cn" d="M2986 805H3071"/><path class="cp" d="M2986 861H3071"/>
<text class="s" x="3112" y="816" style="font-size:43px">negative</text><text class="s" x="3112" y="872" style="font-size:43px">positive</text>
</g>
</g>

<g id="panelD">
<g id="D-connectors" class="d">
<path d="M449 1092L624 1052"/><path d="M449 1092L753 1187"/><path d="M624 1052L753 1187"/><path d="M449 1092L447 1454"/><path d="M449 1092L545 1468"/><path d="M624 1052L447 1454"/><path d="M624 1052L545 1468"/><path d="M753 1187L447 1454"/><path d="M753 1187L545 1468"/><path d="M125 1282L447 1454"/><path d="M125 1282L545 1468"/><path d="M447 1454L545 1468"/><path d="M447 1454L150 1658"/><path d="M545 1468L150 1658"/><path d="M447 1454L362 1816"/><path d="M545 1468L362 1816"/><path d="M447 1454L564 1764"/><path d="M545 1468L564 1764"/><path d="M447 1454L693 1834"/><path d="M545 1468L693 1834"/><path d="M447 1454L834 1640"/><path d="M545 1468L834 1640"/><path d="M150 1658L362 1816"/><path d="M362 1816L564 1764"/><path d="M362 1816L693 1834"/><path d="M564 1764L693 1834"/><path d="M564 1764L834 1640"/><path d="M834 1640L693 1834"/>
</g>
<g id="D-nodes">
<g id="D-glyA"><circle cx="449" cy="1092" r="38" fill="url(#s1)" style="stroke:none"/><text class="dl" x="472" y="1051" style="text-anchor:start">glyA</text></g>
<g id="D-tdcB"><circle cx="624" cy="1052" r="38" fill="url(#s2)" style="stroke:none"/><text class="dl" x="653" y="1024" style="text-anchor:start">tdcB</text></g>
<g id="D-ilvA"><circle cx="753" cy="1187" r="38" fill="url(#s3)" style="stroke:none"/><text class="dl" x="768" y="1134" style="text-anchor:start">ilvA</text></g>
<g id="D-tnaA"><circle cx="125" cy="1282" r="38" fill="url(#s4)" style="stroke:none"/><text class="dl" x="150" y="1253" style="text-anchor:start">tnaA</text></g>
<g id="D-trpA"><circle cx="447" cy="1454" r="38" fill="url(#s5)" style="stroke:none"/><text class="dl" x="465" y="1410" style="text-anchor:start">trpA</text></g>
<g id="D-trpB"><circle cx="545" cy="1468" r="38" fill="url(#s6)" style="stroke:none"/><text class="dl" x="571" y="1436" style="text-anchor:start">trpB</text></g>
<g id="D-putP"><circle cx="150" cy="1658" r="38" fill="url(#s7)" style="stroke:none"/><text class="dl" x="115" y="1608" style="text-anchor:start">putP</text></g>
<g id="D-trpE"><circle cx="834" cy="1640" r="38" fill="url(#s8)" style="stroke:none"/><text class="dl" x="834" y="1595" style="text-anchor:start">trpE</text></g>
<g id="D-trpD"><circle cx="564" cy="1764" r="38" fill="url(#s9)" style="stroke:none"/><text class="dl" x="576" y="1725" style="text-anchor:start">trpD</text></g>
<g id="D-pabB"><circle cx="362" cy="1816" r="38" fill="url(#s10)" style="stroke:none"/><text class="dl" x="389" y="1782" style="text-anchor:start">pabB</text></g>
<g id="D-trpC"><circle cx="693" cy="1834" r="38" fill="url(#s11)" style="stroke:none"/><text class="dl" x="728" y="1801" style="text-anchor:start">trpC</text></g>
</g>
</g>

<g id="panelE">
<g id="E-connectors">
<path class="e" d="M1124 1264L1095 1116"/><path class="e" d="M1124 1264L1132 1133"/><path class="e" d="M1124 1264L1062 1124"/><path class="e" d="M1124 1264L1035 1134"/><path class="e" d="M1124 1264L1103 1144"/><path class="e" d="M1124 1264L1150 1163"/><path class="e" d="M1124 1264L1005 1150"/><path class="e" d="M1124 1264L1044 1163"/><path class="e" d="M1124 1264L1077 1160"/><path class="e" d="M1124 1264L1123 1183"/><path class="e" d="M1124 1264L1009 1177"/><path class="e" d="M1124 1264L982 1183"/><path class="e" d="M1124 1264L1034 1198"/><path class="e" d="M1124 1264L1082 1194"/><path class="e" d="M1124 1264L1002 1214"/><path class="e" d="M1124 1264L971 1212"/><path class="e" d="M1124 1264L1063 1229"/><path class="e" d="M1124 1264L1030 1245"/><path class="e" d="M1124 1264L970 1243"/><path class="e" d="M1124 1264L998 1250"/><path class="e" d="M1124 1264L970 1275"/><path class="e" d="M1124 1264L1011 1284"/><path class="e" d="M1124 1264L1047 1292"/><path class="e" d="M1124 1264L986 1306"/><path class="e" d="M1124 1264L1022 1321"/>
<path class="e" d="M1563 1216L1563 1049"/><path class="e" d="M1563 1216L1593 1049"/><path class="e" d="M1563 1216L1534 1054"/><path class="e" d="M1563 1216L1623 1057"/><path class="e" d="M1563 1216L1504 1067"/><path class="e" d="M1563 1216L1563 1080"/><path class="e" d="M1563 1216L1600 1078"/><path class="e" d="M1563 1216L1636 1080"/><path class="e" d="M1563 1216L1665 1080"/><path class="e" d="M1563 1216L1481 1086"/><path class="e" d="M1563 1216L1531 1088"/><path class="e" d="M1563 1216L1580 1107"/><path class="e" d="M1563 1216L1615 1110"/><path class="e" d="M1563 1216L1664 1107"/><path class="e" d="M1563 1216L1465 1115"/><path class="e" d="M1563 1216L1503 1108"/><path class="e" d="M1563 1216L1545 1122"/><path class="e" d="M1563 1216L1687 1121"/><path class="e" d="M1563 1216L1638 1130"/><path class="e" d="M1563 1216L1493 1144"/><path class="e" d="M1563 1216L1460 1150"/><path class="e" d="M1563 1216L1531 1157"/><path class="e" d="M1563 1216L1593 1149"/><path class="e" d="M1563 1216L1669 1151"/><path class="e" d="M1563 1216L1700 1151"/><path class="e" d="M1563 1216L1632 1170"/><path class="e" d="M1563 1216L1462 1186"/><path class="e" d="M1563 1216L1495 1198"/><path class="e" d="M1563 1216L1663 1191"/><path class="e" d="M1563 1216L1697 1184"/><path class="e" d="M1563 1216L1626 1221"/><path class="e" d="M1563 1216L1683 1220"/><path class="e" d="M1563 1216L1509 1241"/><path class="e" d="M1563 1216L1662 1247"/><path class="e" d="M1563 1216L1583 1271"/><path class="e" d="M1563 1216L1628 1269"/>
<path class="e" d="M1269 1665L1303 1587"/><path class="e" d="M1269 1665L1266 1596"/><path class="e" d="M1269 1665L1237 1576"/><path class="e" d="M1269 1665L1196 1578"/><path class="e" d="M1269 1665L1161 1592"/><path class="e" d="M1269 1665L1195 1610"/><path class="e" d="M1269 1665L1325 1618"/><path class="e" d="M1269 1665L1357 1630"/><path class="e" d="M1269 1665L1135 1616"/><path class="e" d="M1269 1665L1164 1631"/><path class="e" d="M1269 1665L1216 1641"/><path class="e" d="M1269 1665L1113 1636"/><path class="e" d="M1269 1665L1136 1658"/><path class="e" d="M1269 1665L1174 1664"/><path class="e" d="M1269 1665L1103 1667"/><path class="e" d="M1269 1665L1386 1659"/><path class="e" d="M1269 1665L1355 1673"/><path class="e" d="M1269 1665L1110 1692"/><path class="e" d="M1269 1665L1147 1692"/><path class="e" d="M1269 1665L1393 1697"/><path class="e" d="M1269 1665L1306 1704"/><path class="e" d="M1269 1665L1355 1708"/><path class="e" d="M1269 1665L1189 1698"/><path class="e" d="M1269 1665L1102 1717"/><path class="e" d="M1269 1665L1132 1720"/><path class="e" d="M1269 1665L1221 1715"/><path class="e" d="M1269 1665L1395 1729"/><path class="e" d="M1269 1665L1169 1728"/><path class="e" d="M1269 1665L1361 1742"/><path class="e" d="M1269 1665L1321 1741"/><path class="e" d="M1269 1665L1265 1741"/><path class="e" d="M1269 1665L1115 1747"/><path class="e" d="M1269 1665L1145 1750"/><path class="e" d="M1269 1665L1220 1754"/><path class="e" d="M1269 1665L1185 1758"/><path class="e" d="M1269 1665L1387 1762"/><path class="e" d="M1269 1665L1130 1775"/><path class="e" d="M1269 1665L1166 1776"/><path class="e" d="M1269 1665L1262 1775"/><path class="e" d="M1269 1665L1299 1773"/><path class="e" d="M1269 1665L1336 1773"/><path class="e" d="M1269 1665L1369 1784"/><path class="e" d="M1269 1665L1217 1786"/><path class="e" d="M1269 1665L1150 1802"/><path class="e" d="M1269 1665L1191 1798"/><path class="e" d="M1269 1665L1237 1807"/><path class="e" d="M1269 1665L1288 1804"/><path class="e" d="M1269 1665L1327 1805"/><path class="e" d="M1269 1665L1351 1809"/><path class="e" d="M1269 1665L1262 1813"/><path class="e" d="M1269 1665L1173 1821"/><path class="e" d="M1269 1665L1206 1828"/><path class="e" d="M1269 1665L1229 1836"/><path class="e" d="M1269 1665L1314 1832"/><path class="e" d="M1269 1665L1256 1842"/><path class="e" d="M1269 1665L1286 1838"/>
<path class="e" d="M1753 1656L1808 1527"/><path class="e" d="M1753 1656L1841 1535"/><path class="e" d="M1753 1656L1775 1539"/><path class="e" d="M1753 1656L1870 1547"/><path class="e" d="M1753 1656L1808 1561"/><path class="e" d="M1753 1656L1749 1562"/><path class="e" d="M1753 1656L1850 1570"/><path class="e" d="M1753 1656L1895 1570"/><path class="e" d="M1753 1656L1723 1598"/><path class="e" d="M1753 1656L1783 1594"/><path class="e" d="M1753 1656L1827 1596"/><path class="e" d="M1753 1656L1875 1593"/><path class="e" d="M1753 1656L1904 1599"/><path class="e" d="M1753 1656L1868 1624"/><path class="e" d="M1753 1656L1917 1622"/><path class="e" d="M1753 1656L1831 1631"/><path class="e" d="M1753 1656L1888 1649"/><path class="e" d="M1753 1656L1918 1650"/><path class="e" d="M1753 1656L1853 1665"/><path class="e" d="M1753 1656L1809 1674"/><path class="e" d="M1753 1656L1917 1677"/><path class="e" d="M1753 1656L1882 1684"/><path class="e" d="M1753 1656L1910 1703"/><path class="e" d="M1753 1656L1840 1704"/><path class="e" d="M1753 1656L1870 1718"/><path class="e" d="M1753 1656L1697 1692"/><path class="e" d="M1753 1656L1788 1713"/><path class="e" d="M1753 1656L1899 1728"/><path class="e" d="M1753 1656L1730 1721"/><path class="e" d="M1753 1656L1831 1736"/><path class="e" d="M1753 1656L1881 1746"/><path class="e" d="M1753 1656L1703 1749"/><path class="e" d="M1753 1656L1775 1745"/><path class="e" d="M1753 1656L1747 1762"/><path class="e" d="M1753 1656L1803 1766"/><path class="e" d="M1753 1656L1838 1763"/><path class="e" d="M1753 1656L1866 1769"/><path class="e" d="M1753 1656L1730 1782"/><path class="e" d="M1753 1656L1768 1793"/><path class="e" d="M1753 1656L1801 1796"/><path class="e" d="M1753 1656L1830 1790"/>
<path class="e" d="M1124 1264L1165 1466"/><path class="e" d="M1124 1264L1181 1460"/><path class="e" d="M1124 1264L1195 1456"/><path class="e" d="M1269 1665L1165 1466"/><path class="e" d="M1269 1665L1181 1460"/><path class="e" d="M1269 1665L1195 1456"/>
<path class="e" d="M1124 1264L1327 1380"/><path class="e" d="M1563 1216L1327 1380"/><path class="e" d="M1269 1665L1327 1380"/>
<path class="e" d="M1563 1216L1403 1429"/><path class="e" d="M1563 1216L1419 1429"/><path class="e" d="M1563 1216L1420 1443"/><path class="e" d="M1563 1216L1434 1448"/><path class="e" d="M1269 1665L1403 1429"/><path class="e" d="M1269 1665L1419 1429"/><path class="e" d="M1269 1665L1420 1443"/><path class="e" d="M1269 1665L1434 1448"/>
<path class="e" d="M1124 1264L1555 1390"/><path class="e" d="M1753 1656L1555 1390"/><path class="e" d="M1563 1216L1788 1349"/><path class="e" d="M1563 1216L1778 1364"/><path class="e" d="M1753 1656L1788 1349"/><path class="e" d="M1753 1656L1778 1364"/><path class="e" d="M1269 1665L1633 1598"/><path class="e" d="M1753 1656L1633 1598"/>
</g>
<g id="E-nodes" class="et">
<g><circle class="ec" cx="1095" cy="1116" r="11.5"/><text x="1095" y="1119">BCL2</text></g><g><circle class="ec" cx="1132" cy="1133" r="11.5"/><text x="1132" y="1136">CDK19</text></g><g><circle class="ec" cx="1062" cy="1124" r="11.5"/><text x="1062" y="1127">STK4</text></g><g><circle class="ec" cx="1035" cy="1134" r="11.5"/><text x="1035" y="1137">HSF2</text></g><g><circle class="ec" cx="1103" cy="1144" r="11.5"/><text x="1103" y="1147">TBPL1</text></g><g><circle class="ec" cx="1150" cy="1163" r="11.5"/><text x="1150" y="1166">DICER1</text></g><g><circle class="ec" cx="1005" cy="1150" r="11.5"/><text x="1005" y="1153">NR3C1</text></g><g><circle class="ec" cx="1044" cy="1163" r="11.5"/><text x="1044" y="1166">SDC4</text></g><g><circle class="ec" cx="1077" cy="1160" r="11.5"/><text x="1077" y="1163">NEDD9</text></g><g><circle class="ec" cx="1123" cy="1183" r="11.5"/><text x="1123" y="1186">NEO1</text></g><g><circle class="ec" cx="1009" cy="1177" r="11.5"/><text x="1009" y="1180">TNFAIP3</text></g><g><circle class="ec" cx="982" cy="1183" r="11.5"/><text x="982" y="1186">ESR1</text></g><g><circle class="ec" cx="1034" cy="1198" r="11.5"/><text x="1034" y="1201">TGFBR2</text></g><g><circle class="ec" cx="1082" cy="1194" r="11.5"/><text x="1082" y="1197">CTGF</text></g><g><circle class="ec" cx="1002" cy="1214" r="11.5"/><text x="1002" y="1217">SMAD2</text></g><g><circle class="ec" cx="971" cy="1212" r="11.5"/><text x="971" y="1215">BCL2L13</text></g><g><circle class="ec" cx="1063" cy="1229" r="11.5"/><text x="1063" y="1232">ATM</text></g><g><circle class="ec" cx="1030" cy="1245" r="11.5"/><text x="1030" y="1248">MEF2D</text></g><g><circle class="ec" cx="970" cy="1243" r="11.5"/><text x="970" y="1246">IRF2</text></g><g><circle class="ec" cx="998" cy="1250" r="11.5"/><text x="998" y="1253">PHLPP2</text></g><g><circle class="ec" cx="970" cy="1275" r="11.5"/><text x="970" y="1278">FCGR2B</text></g><g><circle class="ec" cx="1011" cy="1284" r="11.5"/><text x="1011" y="1287">DNMT1</text></g><g><circle class="ec" cx="1047" cy="1292" r="11.5"/><text x="1047" y="1295">RUNX1</text></g><g><circle class="ec" cx="986" cy="1306" r="11.5"/><text x="986" y="1309">TNFSF11</text></g><g><circle class="ec" cx="1022" cy="1321" r="11.5"/><text x="1022" y="1324">NR1I2</text></g>
<g><circle class="ec" cx="1563" cy="1049" r="11.5"/><text x="1563" y="1052">AKT1</text></g><g><circle class="ec" cx="1593" cy="1049" r="11.5"/><text x="1593" y="1052">SOX4</text></g><g><circle class="ec" cx="1534" cy="1054" r="11.5"/><text x="1534" y="1057">SNAI2</text></g><g><circle class="ec" cx="1623" cy="1057" r="11.5"/><text x="1623" y="1060">ROCK2</text></g><g><circle class="ec" cx="1504" cy="1067" r="11.5"/><text x="1504" y="1071">ADGRA2</text></g><g><circle class="ec" cx="1563" cy="1080" r="11.5"/><text x="1563" y="1083">FOSL1</text></g><g><circle class="ec" cx="1600" cy="1078" r="11.5"/><text x="1600" y="1081">TWIST2</text></g><g><circle class="ec" cx="1636" cy="1080" r="11.5"/><text x="1636" y="1083">S100A1</text></g><g><circle class="ec" cx="1665" cy="1080" r="11.5"/><text x="1665" y="1083">SUZ12</text></g><g><circle class="ec" cx="1481" cy="1086" r="11.5"/><text x="1481" y="1089">BAG1</text></g><g><circle class="ec" cx="1531" cy="1088" r="11.5"/><text x="1531" y="1091">GNAI2</text></g><g><circle class="ec" cx="1580" cy="1107" r="11.5"/><text x="1580" y="1111">RHOC</text></g><g><circle class="ec" cx="1615" cy="1110" r="11.5"/><text x="1615" y="1114">SENP1</text></g><g><circle class="ec" cx="1664" cy="1107" r="11.5"/><text x="1664" y="1111">EIF4EBP1</text></g><g><circle class="ec" cx="1465" cy="1115" r="11.5"/><text x="1465" y="1118">LCN2</text></g><g><circle class="ec" cx="1503" cy="1108" r="11.5"/><text x="1503" y="1111">CCND3</text></g><g><circle class="ec" cx="1545" cy="1122" r="11.5"/><text x="1545" y="1125">H2AFX</text></g><g><circle class="ec" cx="1687" cy="1121" r="11.5"/><text x="1687" y="1124">CYTOR</text></g><g><circle class="ec" cx="1638" cy="1130" r="11.5"/><text x="1638" y="1134">RMND5A</text></g><g><circle class="ec" cx="1493" cy="1144" r="11.5"/><text x="1493" y="1147">CASP3</text></g><g><circle class="ec" cx="1460" cy="1150" r="11.5"/><text x="1460" y="1153">EID1</text></g><g><circle class="ec" cx="1531" cy="1157" r="11.5"/><text x="1531" y="1160">VIM</text></g><g><circle class="ec" cx="1593" cy="1149" r="11.5"/><text x="1593" y="1152">YAP1</text></g><g><circle class="ec" cx="1669" cy="1151" r="11.5"/><text x="1669" y="1154">BLCAP</text></g><g><circle class="ec" cx="1700" cy="1151" r="11.5"/><text x="1700" y="1154">PRMT2</text></g><g><circle class="ec" cx="1632" cy="1170" r="11.5"/><text x="1632" y="1174">TERT</text></g><g><circle class="ec" cx="1462" cy="1186" r="11.5"/><text x="1462" y="1189">MXD1</text></g><g><circle class="ec" cx="1495" cy="1198" r="11.5"/><text x="1495" y="1201">CCND1</text></g><g><circle class="ec" cx="1663" cy="1191" r="11.5"/><text x="1663" y="1194">ZEB2</text></g><g><circle class="ec" cx="1697" cy="1184" r="11.5"/><text x="1697" y="1188">KDM5C</text></g><g><circle class="ec" cx="1626" cy="1221" r="11.5"/><text x="1626" y="1224">BCL11A</text></g><g><circle class="ec" cx="1683" cy="1220" r="11.5"/><text x="1683" y="1223">FOXC1</text></g><g><circle class="ec" cx="1509" cy="1241" r="11.5"/><text x="1509" y="1244">PTK2</text></g><g><circle class="ec" cx="1662" cy="1247" r="11.5"/><text x="1662" y="1251">SOX9</text></g><g><circle class="ec" cx="1583" cy="1271" r="11.5"/><text x="1583" y="1274">RARA</text></g><g><circle class="ec" cx="1628" cy="1269" r="11.5"/><text x="1628" y="1272">RELN</text></g>
<g><circle class="ec" cx="1303" cy="1587" r="11.5"/><text x="1303" y="1590">FZD6</text></g><g><circle class="ec" cx="1266" cy="1596" r="11.5"/><text x="1266" y="1600">UNG</text></g><g><circle class="ec" cx="1237" cy="1576" r="11.5"/><text x="1237" y="1579">CLTC</text></g><g><circle class="ec" cx="1196" cy="1578" r="11.5"/><text x="1196" y="1581">RAB21</text></g><g><circle class="ec" cx="1161" cy="1592" r="11.5"/><text x="1161" y="1595">LIF</text></g><g><circle class="ec" cx="1195" cy="1610" r="11.5"/><text x="1195" y="1613">PDE4D</text></g><g><circle class="ec" cx="1325" cy="1618" r="11.5"/><text x="1325" y="1621">CCR7</text></g><g><circle class="ec" cx="1357" cy="1630" r="11.5"/><text x="1357" y="1633">VEGFA</text></g><g><circle class="ec" cx="1135" cy="1616" r="11.5"/><text x="1135" y="1620">DRAM1</text></g><g><circle class="ec" cx="1164" cy="1631" r="11.5"/><text x="1164" y="1634">ACVR1B</text></g><g><circle class="ec" cx="1216" cy="1641" r="11.5"/><text x="1216" y="1644">TGFB2</text></g><g><circle class="ec" cx="1113" cy="1636" r="11.5"/><text x="1113" y="1640">RND1</text></g><g><circle class="ec" cx="1136" cy="1658" r="11.5"/><text x="1136" y="1661">CAV1</text></g><g><circle class="ec" cx="1174" cy="1664" r="11.5"/><text x="1174" y="1667">ATF6</text></g><g><circle class="ec" cx="1103" cy="1667" r="11.5"/><text x="1103" y="1670">LDLR</text></g><g><circle class="ec" cx="1386" cy="1659" r="11.5"/><text x="1386" y="1662">ETS1</text></g><g><circle class="ec" cx="1355" cy="1673" r="11.5"/><text x="1355" y="1676">BECN1</text></g><g><circle class="ec" cx="1110" cy="1692" r="11.5"/><text x="1110" y="1695">NECTIN1</text></g><g><circle class="ec" cx="1147" cy="1692" r="11.5"/><text x="1147" y="1695">KRAS</text></g><g><circle class="ec" cx="1393" cy="1697" r="11.5"/><text x="1393" y="1700">HK2</text></g><g><circle class="ec" cx="1306" cy="1704" r="11.5"/><text x="1306" y="1707">TGFBR1</text></g><g><circle class="ec" cx="1355" cy="1708" r="11.5"/><text x="1355" y="1711">CTSC</text></g><g><circle class="ec" cx="1189" cy="1698" r="11.5"/><text x="1189" y="1701">PTGS2</text></g><g><circle class="ec" cx="1102" cy="1717" r="11.5"/><text x="1102" y="1720">DDR1</text></g><g><circle class="ec" cx="1132" cy="1720" r="11.5"/><text x="1132" y="1723">MAP4K3</text></g><g><circle class="ec" cx="1221" cy="1715" r="11.5"/><text x="1221" y="1718">SETD2</text></g><g><circle class="ec" cx="1395" cy="1729" r="11.5"/><text x="1395" y="1732">WNK1</text></g><g><circle class="ec" cx="1169" cy="1728" r="11.5"/><text x="1169" y="1731">WNT2</text></g><g><circle class="ec" cx="1361" cy="1742" r="11.5"/><text x="1361" y="1745">HSPA5</text></g><g><circle class="ec" cx="1321" cy="1741" r="11.5"/><text x="1321" y="1744">LIN7A</text></g><g><circle class="ec" cx="1265" cy="1741" r="11.5"/><text x="1265" y="1744">ERBB2</text></g><g><circle class="ec" cx="1115" cy="1747" r="11.5"/><text x="1115" y="1750">MAFB</text></g><g><circle class="ec" cx="1145" cy="1750" r="11.5"/><text x="1145" y="1753">IKBKB</text></g><g><circle class="ec" cx="1220" cy="1754" r="11.5"/><text x="1220" y="1757">TMEM54</text></g><g><circle class="ec" cx="1185" cy="1758" r="11.5"/><text x="1185" y="1761">PSMD9</text></g><g><circle class="ec" cx="1387" cy="1762" r="11.5"/><text x="1387" y="1765">EDN1</text></g><g><circle class="ec" cx="1130" cy="1775" r="11.5"/><text x="1130" y="1778">GPR78</text></g><g><circle class="ec" cx="1166" cy="1776" r="11.5"/><text x="1166" y="1780">KL</text></g><g><circle class="ec" cx="1262" cy="1775" r="11.5"/><text x="1262" y="1778">CDH2</text></g><g><circle class="ec" cx="1299" cy="1773" r="11.5"/><text x="1299" y="1776">ERBB3</text></g><g><circle class="ec" cx="1336" cy="1773" r="11.5"/><text x="1336" y="1776">DNAJA4</text></g><g><circle class="ec" cx="1369" cy="1784" r="11.5"/><text x="1369" y="1787">JUNB</text></g><g><circle class="ec" cx="1217" cy="1786" r="11.5"/><text x="1217" y="1789">ERN1</text></g><g><circle class="ec" cx="1150" cy="1802" r="11.5"/><text x="1150" y="1806">FZD4</text></g><g><circle class="ec" cx="1191" cy="1798" r="11.5"/><text x="1191" y="1801">SNAI1</text></g><g><circle class="ec" cx="1237" cy="1807" r="11.5"/><text x="1237" y="1810">ITGA3</text></g><g><circle class="ec" cx="1288" cy="1804" r="11.5"/><text x="1288" y="1807">ARHGAP12</text></g><g><circle class="ec" cx="1327" cy="1805" r="11.5"/><text x="1327" y="1809">APOB</text></g><g><circle class="ec" cx="1351" cy="1809" r="11.5"/><text x="1351" y="1812">PIK3CD</text></g><g><circle class="ec" cx="1262" cy="1813" r="11.5"/><text x="1262" y="1816">SMARCA2</text></g><g><circle class="ec" cx="1173" cy="1821" r="11.5"/><text x="1173" y="1824">SULT1E1</text></g><g><circle class="ec" cx="1206" cy="1828" r="11.5"/><text x="1206" y="1832">CD44</text></g><g><circle class="ec" cx="1229" cy="1836" r="11.5"/><text x="1229" y="1839">SLC27A1</text></g><g><circle class="ec" cx="1314" cy="1832" r="11.5"/><text x="1314" y="1835">CDKN1C</text></g><g><circle class="ec" cx="1256" cy="1842" r="11.5"/><text x="1256" y="1845">GSK3B</text></g><g><circle class="ec" cx="1286" cy="1838" r="11.5"/><text x="1286" y="1841">OSCP1</text></g>
<g><circle class="ec" cx="1808" cy="1527" r="11.5"/><text x="1808" y="1530">RAB15</text></g><g><circle class="ec" cx="1841" cy="1535" r="11.5"/><text x="1841" y="1538">ARL2</text></g><g><circle class="ec" cx="1775" cy="1539" r="11.5"/><text x="1775" y="1542">CTNNB1</text></g><g><circle class="ec" cx="1870" cy="1547" r="11.5"/><text x="1870" y="1550">CDK6</text></g><g><circle class="ec" cx="1808" cy="1561" r="11.5"/><text x="1808" y="1564">MAP2K3</text></g><g><circle class="ec" cx="1749" cy="1562" r="11.5"/><text x="1749" y="1565">CADM1</text></g><g><circle class="ec" cx="1850" cy="1570" r="11.5"/><text x="1850" y="1573">XBP1</text></g><g><circle class="ec" cx="1895" cy="1570" r="11.5"/><text x="1895" y="1573">LTF</text></g><g><circle class="ec" cx="1723" cy="1598" r="11.5"/><text x="1723" y="1601">HDGF</text></g><g><circle class="ec" cx="1783" cy="1594" r="11.5"/><text x="1783" y="1597">TP53</text></g><g><circle class="ec" cx="1827" cy="1596" r="11.5"/><text x="1827" y="1599">SUFU</text></g><g><circle class="ec" cx="1875" cy="1593" r="11.5"/><text x="1875" y="1597">QKI</text></g><g><circle class="ec" cx="1904" cy="1599" r="11.5"/><text x="1904" y="1603">UBE2I</text></g><g><circle class="ec" cx="1868" cy="1624" r="11.5"/><text x="1868" y="1627">BCL2L2</text></g><g><circle class="ec" cx="1917" cy="1622" r="11.5"/><text x="1917" y="1626">CPD</text></g><g><circle class="ec" cx="1831" cy="1631" r="11.5"/><text x="1831" y="1635">GALNT2</text></g><g><circle class="ec" cx="1888" cy="1649" r="11.5"/><text x="1888" y="1652">ATF4</text></g><g><circle class="ec" cx="1918" cy="1650" r="11.5"/><text x="1918" y="1653">CCL5</text></g><g><circle class="ec" cx="1853" cy="1665" r="11.5"/><text x="1853" y="1668">MEF2C</text></g><g><circle class="ec" cx="1809" cy="1674" r="11.5"/><text x="1809" y="1677">MAPK8</text></g><g><circle class="ec" cx="1917" cy="1677" r="11.5"/><text x="1917" y="1680">BAX</text></g><g><circle class="ec" cx="1882" cy="1684" r="11.5"/><text x="1882" y="1687">LZTS1</text></g><g><circle class="ec" cx="1910" cy="1703" r="11.5"/><text x="1910" y="1706">ASF1B</text></g><g><circle class="ec" cx="1840" cy="1704" r="11.5"/><text x="1840" y="1707">BIRC5</text></g><g><circle class="ec" cx="1870" cy="1718" r="11.5"/><text x="1870" y="1721">POR</text></g><g><circle class="ec" cx="1697" cy="1692" r="11.5"/><text x="1697" y="1695">PLXNB1</text></g><g><circle class="ec" cx="1788" cy="1713" r="11.5"/><text x="1788" y="1716">SRGAP1</text></g><g><circle class="ec" cx="1899" cy="1728" r="11.5"/><text x="1899" y="1731">PAPPA</text></g><g><circle class="ec" cx="1730" cy="1721" r="11.5"/><text x="1730" y="1724">FGFR1</text></g><g><circle class="ec" cx="1831" cy="1736" r="11.5"/><text x="1831" y="1739">PIM1</text></g><g><circle class="ec" cx="1881" cy="1746" r="11.5"/><text x="1881" y="1749">GSR</text></g><g><circle class="ec" cx="1703" cy="1749" r="11.5"/><text x="1703" y="1752">SRGAP2</text></g><g><circle class="ec" cx="1775" cy="1745" r="11.5"/><text x="1775" y="1749">BCL2L11</text></g><g><circle class="ec" cx="1747" cy="1762" r="11.5"/><text x="1747" y="1765">SEMA4D</text></g><g><circle class="ec" cx="1803" cy="1766" r="11.5"/><text x="1803" y="1769">ING4</text></g><g><circle class="ec" cx="1838" cy="1763" r="11.5"/><text x="1838" y="1766">MAPK1</text></g><g><circle class="ec" cx="1866" cy="1769" r="11.5"/><text x="1866" y="1772">TWIST1</text></g><g><circle class="ec" cx="1730" cy="1782" r="11.5"/><text x="1730" y="1786">ALPK2</text></g><g><circle class="ec" cx="1768" cy="1793" r="11.5"/><text x="1768" y="1796">POU4F2</text></g><g><circle class="ec" cx="1801" cy="1796" r="11.5"/><text x="1801" y="1799">NRAS</text></g><g><circle class="ec" cx="1830" cy="1790" r="11.5"/><text x="1830" y="1793">PSMD10</text></g>
<g><circle class="ec" cx="1165" cy="1466" r="11.5"/><text x="1165" y="1469">SMAD4</text></g><g><circle class="ec" cx="1181" cy="1460" r="11.5"/><text x="1181" y="1463">PIAS3</text></g><g><circle class="ec" cx="1195" cy="1456" r="11.5"/><text x="1195" y="1460">SMAD3</text></g><g><circle class="ec" cx="1327" cy="1380" r="11.5"/><text x="1327" y="1383">HIF1A</text></g><g><circle class="ec" cx="1403" cy="1429" r="11.5"/><text x="1403" y="1432">SIRT1</text></g><g><circle class="ec" cx="1420" cy="1443" r="11.5"/><text x="1420" y="1446">CDH1</text></g><g><circle class="ec" cx="1434" cy="1448" r="11.5"/><text x="1434" y="1453">MAP3K11</text></g><g><circle class="ec" cx="1419" cy="1429" r="11.5"/><text x="1419" y="1432">NFKB1</text></g><g><circle class="ec" cx="1555" cy="1390" r="11.5"/><text x="1555" y="1394">PTEN</text></g><g><circle class="ec" cx="1788" cy="1349" r="11.5"/><text x="1788" y="1352">EZH2</text></g><g><circle class="ec" cx="1778" cy="1364" r="11.5"/><text x="1778" y="1367">CD274</text></g><g><circle class="ec" cx="1633" cy="1598" r="11.5"/><text x="1633" y="1601">JAG1</text></g>
<g id="E-t1"><path class="tr" d="M1124 1224L1160 1284H1088Z"/><text class="el" x="1097" y="1271">hsa−miR−18a−5p</text></g>
<g id="E-t2"><path class="tr" d="M1563 1172L1600 1232H1528Z"/><text class="el" x="1325" y="1224">hsa−miR−138−5p</text></g>
<g id="E-t3"><path class="tr" d="M1269 1624L1305 1686H1234Z"/><text class="el" x="1123" y="1674">hsa−miR−199a−5p</text></g>
<g id="E-t4"><path class="tr" d="M1753 1612L1789 1672H1718Z"/><text class="el" x="1498" y="1662">hsa−miR−214−3p</text></g>
</g>
<g id="E-legend">
<circle class="ec" cx="1788" cy="1190" r="15"/><text class="s" x="1836" y="1209" style="font-size:50px">Target Gene</text>
<path class="tr" d="M1792 1241L1812 1275H1773Z"/><text class="s" x="1838" y="1274" style="font-size:50px">miRNA</text>
</g>
</g>

<g id="panelF">
<g id="F-blobs">
<path class="kg" d="M2414.5 1094Q2432 1090 2453 1096.5T2499.5 1134.5T2536 1189T2536 1238T2490 1310T2426 1382T2355.5 1422T2295 1429T2250.5 1394.5T2210.5 1332.5T2195 1284T2203 1247T2237.5 1198T2304.5 1149T2371.5 1112T2414.5 1094Z"/>
<path class="kg" d="M2156.5 1422.5Q2177 1417 2204 1426.5T2253.5 1456T2301.5 1502T2332 1548T2329 1602.5T2298.5 1668.5T2250.5 1720T2212 1743.5T2177 1741T2129.5 1712T2088 1669T2064 1611.5T2061 1542.5T2081 1485T2116.5 1443.5T2156.5 1422.5Z"/>
<path class="kg" d="M2839 1041.5Q2866 1037 2890 1046T2946 1073T3006 1115T3042.5 1161T3045.5 1227T3012.5 1293T2960 1321T2902.5 1318T2831 1295.5T2767 1255.5T2727 1198T2716 1141T2740 1089T2786.5 1054.5T2839 1041.5Z"/>
<path class="ko" d="M2660 1339Q2706.5 1328 2756 1339T2846.5 1381.5T2913.5 1442T2947 1511T2953.5 1579.5T2933 1645.5T2872.5 1723T2796 1786T2719.5 1818T2630 1815T2540.5 1772T2473.5 1692T2443 1614T2450 1540T2493 1448T2569.5 1376T2660 1339Z"/>
</g>
<g id="F-connectors" class="f">
<path d="M2395 1246L2403 1134"/><path d="M2395 1246L2460 1134"/><path d="M2395 1246L2488 1176"/><path d="M2395 1246L2353 1193"/><path d="M2395 1246L2322 1229"/><path d="M2395 1246L2511 1225"/><path d="M2395 1246L2439 1280"/><path d="M2395 1246L2388 1295"/><path d="M2395 1246L2284 1380"/><path d="M2395 1246L2315 1396"/>
<path d="M2327 1295L2353 1193"/><path d="M2327 1295L2257 1219"/><path d="M2327 1295L2322 1229"/><path d="M2327 1295L2511 1225"/><path d="M2327 1295L2439 1280"/><path d="M2327 1295L2388 1295"/><path d="M2327 1295L2230 1284"/><path d="M2327 1295L2403 1358"/><path d="M2327 1295L2284 1380"/><path d="M2327 1295L2315 1396"/>
<path d="M2208 1556L2284 1380"/><path d="M2208 1556L2315 1396"/><path d="M2208 1556L2182 1457"/><path d="M2208 1556L2127 1473"/><path d="M2208 1556L2243 1485"/><path d="M2208 1556L2148 1529"/><path d="M2208 1556L2094 1543"/><path d="M2208 1556L2293 1538"/><path d="M2208 1556L2115 1597"/><path d="M2208 1556L2288 1606"/><path d="M2208 1556L2112 1653"/><path d="M2208 1556L2168 1644"/><path d="M2208 1556L2226 1632"/><path d="M2208 1556L2262 1673"/><path d="M2208 1556L2159 1696"/><path d="M2208 1556L2212 1706"/>
<path d="M2884 1178L2884 1080"/><path d="M2884 1178L2831 1083"/><path d="M2884 1178L2770 1097"/><path d="M2884 1178L2928 1112"/><path d="M2884 1178L2985 1131"/><path d="M2884 1178L2801 1135"/><path d="M2884 1178L2750 1174"/><path d="M2884 1178L2803 1193"/><path d="M2884 1178L2970 1182"/><path d="M2884 1178L3016 1208"/><path d="M2884 1178L2933 1232"/><path d="M2884 1178L2805 1247"/><path d="M2884 1178L2997 1261"/><path d="M2884 1178L2869 1267"/><path d="M2884 1178L2942 1287"/>
<path d="M2697 1581L2701 1371"/><path d="M2697 1581L2650 1383"/><path d="M2697 1581L2780 1381"/><path d="M2697 1581L2604 1402"/><path d="M2697 1581L2740 1395"/><path d="M2697 1581L2819 1408"/><path d="M2697 1581L2686 1421"/><path d="M2697 1581L2858 1431"/><path d="M2697 1581L2562 1429"/><path d="M2697 1581L2775 1441"/><path d="M2697 1581L2627 1448"/><path d="M2697 1581L2729 1466"/><path d="M2697 1581L2530 1468"/><path d="M2697 1581L2807 1477"/><path d="M2697 1581L2854 1482"/><path d="M2697 1581L2895 1474"/><path d="M2697 1581L2584 1484"/><path d="M2697 1581L2675 1482"/><path d="M2697 1581L2523 1511"/><path d="M2697 1581L2632 1531"/><path d="M2697 1581L2763 1528"/><path d="M2697 1581L2831 1531"/><path d="M2697 1581L2907 1521"/><path d="M2697 1581L2572 1544"/><path d="M2697 1581L2492 1542"/><path d="M2697 1581L2877 1554"/><path d="M2697 1581L2531 1580"/><path d="M2697 1581L2480 1593"/><path d="M2697 1581L2828 1586"/><path d="M2697 1581L2914 1583"/><path d="M2697 1581L2599 1603"/><path d="M2697 1581L2779 1612"/><path d="M2697 1581L2874 1612"/><path d="M2697 1581L2503 1629"/><path d="M2697 1581L2557 1640"/><path d="M2697 1581L2825 1653"/><path d="M2697 1581L2894 1649"/><path d="M2697 1581L2662 1654"/><path d="M2697 1581L2735 1665"/><path d="M2697 1581L2491 1672"/><path d="M2697 1581L2604 1673"/><path d="M2697 1581L2531 1686"/><path d="M2697 1581L2866 1686"/><path d="M2697 1581L2782 1696"/><path d="M2697 1581L2832 1715"/><path d="M2697 1581L2689 1716"/><path d="M2697 1581L2585 1716"/><path d="M2697 1581L2532 1728"/><path d="M2697 1581L2641 1726"/><path d="M2697 1581L2734 1735"/><path d="M2697 1581L2803 1748"/><path d="M2697 1581L2574 1759"/><path d="M2697 1581L2761 1772"/><path d="M2697 1581L2618 1774"/><path d="M2697 1581L2661 1781"/><path d="M2697 1581L2706 1781"/>
</g>
<g id="F-nodes" class="ft">
<g><circle class="fd" cx="2403" cy="1134" r="11"/><text x="2403" y="1139">K01425</text></g><g><circle class="fd" cx="2460" cy="1134" r="11"/><text x="2460" y="1139">K00031</text></g><g><circle class="fd" cx="2488" cy="1176" r="11"/><text x="2488" y="1181">K00036</text></g><g><circle class="fd" cx="2353" cy="1193" r="11"/><text x="2353" y="1198">K01834</text></g><g><circle class="fd" cx="2257" cy="1219" r="11"/><text x="2257" y="1224">K00688</text></g><g><circle class="fd" cx="2322" cy="1229" r="11"/><text x="2322" y="1234">K00873</text></g><g><circle class="fn" cx="2511" cy="1225" r="11"/><text x="2511" y="1230">K00844</text></g><g><circle class="fn" cx="2439" cy="1280" r="11"/><text x="2439" y="1285">K00016</text></g><g><circle class="fd" cx="2388" cy="1295" r="11"/><text x="2388" y="1300">K00850</text></g><g><circle class="fn" cx="2230" cy="1284" r="11"/><text x="2230" y="1289">K01596</text></g><g><circle class="fn" cx="2403" cy="1358" r="11"/><text x="2403" y="1363">K03841</text></g><g><circle class="fd" cx="2284" cy="1380" r="11"/><text x="2284" y="1385">K00161</text></g><g><circle class="fd" cx="2315" cy="1396" r="11"/><text x="2315" y="1401">K00162</text></g>
<g><circle class="fd" cx="2182" cy="1457" r="11"/><text x="2182" y="1462">K00627</text></g><g><circle class="fn" cx="2127" cy="1473" r="11"/><text x="2127" y="1478">K00283</text></g><g><circle class="fd" cx="2243" cy="1485" r="11"/><text x="2243" y="1490">K03644</text></g><g><circle class="fn" cx="2148" cy="1529" r="11"/><text x="2148" y="1534">K00164</text></g><g><circle class="fn" cx="2094" cy="1543" r="11"/><text x="2094" y="1548">K00282</text></g><g><circle class="fd" cx="2293" cy="1538" r="11"/><text x="2293" y="1543">K00605</text></g><g><circle class="fn" cx="2115" cy="1597" r="11"/><text x="2115" y="1602">K03800</text></g><g><circle class="fd" cx="2288" cy="1606" r="11"/><text x="2288" y="1611">K03801</text></g><g><circle class="fd" cx="2112" cy="1653" r="11"/><text x="2112" y="1658">K11381</text></g><g><circle class="fd" cx="2168" cy="1644" r="11"/><text x="2168" y="1649">K02437</text></g><g><circle class="fd" cx="2226" cy="1632" r="11"/><text x="2226" y="1637">K00382</text></g><g><circle class="fd" cx="2262" cy="1673" r="11"/><text x="2262" y="1678">K00658</text></g><g><circle class="fd" cx="2159" cy="1696" r="11"/><text x="2159" y="1701">K00281</text></g><g><circle class="fn" cx="2212" cy="1706" r="11"/><text x="2212" y="1711">K00163</text></g>
<g><circle class="fd" cx="2884" cy="1080" r="11"/><text x="2884" y="1085">K00833</text></g><g><circle class="fd" cx="2831" cy="1083" r="11"/><text x="2831" y="1088">K09789</text></g><g><circle class="fn" cx="2770" cy="1097" r="11"/><text x="2770" y="1102">K00647</text></g><g><circle class="fn" cx="2928" cy="1112" r="11"/><text x="2928" y="1117">K08351</text></g><g><circle class="fd" cx="2985" cy="1131" r="11"/><text x="2985" y="1136">K00059</text></g><g><circle class="fn" cx="2801" cy="1135" r="11"/><text x="2801" y="1140">K01906</text></g><g><circle class="fd" cx="2750" cy="1174" r="11"/><text x="2750" y="1179">K00652</text></g><g><circle class="fe" cx="2803" cy="1193" r="11"/><text x="2803" y="1198">K00208</text></g><g><circle class="fn" cx="2970" cy="1182" r="11"/><text x="2970" y="1187">K02170</text></g><g><circle class="fd" cx="3016" cy="1208" r="11"/><text x="3016" y="1213">K01012</text></g><g><circle class="fd" cx="2933" cy="1232" r="11"/><text x="2933" y="1237">K02372</text></g><g><circle class="fd" cx="2805" cy="1247" r="11"/><text x="2805" y="1252">K02169</text></g><g><circle class="fn" cx="2997" cy="1261" r="11"/><text x="2997" y="1266">K09458</text></g><g><circle class="fd" cx="2869" cy="1267" r="11"/><text x="2869" y="1272">K01935</text></g><g><circle class="fn" cx="2942" cy="1287" r="11"/><text x="2942" y="1292">K03524</text></g>
<g><circle class="fn" cx="2701" cy="1371" r="11"/><text x="2701" y="1376">K02994</text></g><g><circle class="fd" cx="2650" cy="1383" r="11"/><text x="2650" y="1388">K02914</text></g><g><circle class="fn" cx="2780" cy="1381" r="11"/><text x="2780" y="1386">K02867</text></g><g><circle class="fn" cx="2604" cy="1402" r="11"/><text x="2604" y="1407">K02863</text></g><g><circle class="fn" cx="2740" cy="1395" r="11"/><text x="2740" y="1400">K02935</text></g><g><circle class="fn" cx="2819" cy="1408" r="11"/><text x="2819" y="1413">K02927</text></g><g><circle class="fn" cx="2686" cy="1421" r="11"/><text x="2686" y="1426">K02864</text></g><g><circle class="fe" cx="2858" cy="1431" r="11"/><text x="2858" y="1436">K02874</text></g><g><circle class="fe" cx="2562" cy="1429" r="11"/><text x="2562" y="1434">K02996</text></g><g><circle class="fn" cx="2775" cy="1441" r="11"/><text x="2775" y="1446">K02876</text></g><g><circle class="fe" cx="2627" cy="1448" r="11"/><text x="2627" y="1453">K02892</text></g><g><circle class="fn" cx="2729" cy="1466" r="11"/><text x="2729" y="1471">K02933</text></g><g><circle class="fe" cx="2530" cy="1468" r="11"/><text x="2530" y="1473">K02906</text></g><g><circle class="fn" cx="2807" cy="1477" r="11"/><text x="2807" y="1482">K02909</text></g><g><circle class="fe" cx="2854" cy="1482" r="11"/><text x="2854" y="1487">K02886</text></g><g><circle class="fn" cx="2895" cy="1474" r="11"/><text x="2895" y="1479">K02965</text></g><g><circle class="fn" cx="2584" cy="1484" r="11"/><text x="2584" y="1489">K02970</text></g><g><circle class="fn" cx="2675" cy="1482" r="11"/><text x="2675" y="1487">K02946</text></g><g><circle class="fe" cx="2523" cy="1511" r="11"/><text x="2523" y="1516">K02899</text></g><g><circle class="fn" cx="2632" cy="1531" r="11"/><text x="2632" y="1536">K02911</text></g><g><circle class="fn" cx="2763" cy="1528" r="11"/><text x="2763" y="1533">K02887</text></g><g><circle class="fn" cx="2831" cy="1531" r="11"/><text x="2831" y="1536">K02871</text></g><g><circle class="fn" cx="2907" cy="1521" r="11"/><text x="2907" y="1526">K02916</text></g><g><circle class="fn" cx="2572" cy="1544" r="11"/><text x="2572" y="1549">K02879</text></g><g><circle class="fn" cx="2492" cy="1542" r="11"/><text x="2492" y="1547">K02990</text></g><g><circle class="fn" cx="2877" cy="1554" r="11"/><text x="2877" y="1559">K02881</text></g><g><circle class="fe" cx="2531" cy="1580" r="11"/><text x="2531" y="1585">K02897</text></g><g><circle class="fn" cx="2480" cy="1593" r="11"/><text x="2480" y="1598">K07590</text></g><g><circle class="fe" cx="2828" cy="1586" r="11"/><text x="2828" y="1591">K02884</text></g><g><circle class="fn" cx="2914" cy="1583" r="11"/><text x="2914" y="1588">K02986</text></g><g><circle class="fn" cx="2599" cy="1603" r="11"/><text x="2599" y="1608">K02919</text></g><g><circle class="fn" cx="2779" cy="1612" r="11"/><text x="2779" y="1617">K02968</text></g><g><circle class="fe" cx="2874" cy="1612" r="11"/><text x="2874" y="1617">K02888</text></g><g><circle class="fe" cx="2503" cy="1629" r="11"/><text x="2503" y="1634">K02926</text></g><g><circle class="fe" cx="2557" cy="1640" r="11"/><text x="2557" y="1645">K02931</text></g><g><circle class="fn" cx="2825" cy="1653" r="11"/><text x="2825" y="1658">K02950</text></g><g><circle class="fn" cx="2894" cy="1649" r="11"/><text x="2894" y="1654">K02913</text></g><g><circle class="fe" cx="2662" cy="1654" r="11"/><text x="2662" y="1659">K02939</text></g><g><circle class="fe" cx="2735" cy="1665" r="11"/><text x="2735" y="1670">K02959</text></g><g><circle class="fe" cx="2491" cy="1672" r="11"/><text x="2491" y="1677">K02967</text></g><g><circle class="fn" cx="2604" cy="1673" r="11"/><text x="2604" y="1678">K02890</text></g><g><circle class="fn" cx="2531" cy="1686" r="11"/><text x="2531" y="1691">K02956</text></g><g><circle class="fn" cx="2866" cy="1686" r="11"/><text x="2866" y="1691">K02952</text></g><g><circle class="fn" cx="2782" cy="1696" r="11"/><text x="2782" y="1701">K02904</text></g><g><circle class="fn" cx="2832" cy="1715" r="11"/><text x="2832" y="1720">K02902</text></g><g><circle class="fn" cx="2689" cy="1716" r="11"/><text x="2689" y="1721">K02948</text></g><g><circle class="fd" cx="2585" cy="1716" r="11"/><text x="2585" y="1721">K02963</text></g><g><circle class="fn" cx="2532" cy="1728" r="11"/><text x="2532" y="1733">K02895</text></g><g><circle class="fe" cx="2641" cy="1726" r="11"/><text x="2641" y="1731">K02954</text></g><g><circle class="fn" cx="2734" cy="1735" r="11"/><text x="2734" y="1740">K02878</text></g><g><circle class="fe" cx="2803" cy="1748" r="11"/><text x="2803" y="1753">K02982</text></g><g><circle class="fn" cx="2574" cy="1759" r="11"/><text x="2574" y="1764">K02907</text></g><g><circle class="fn" cx="2761" cy="1772" r="11"/><text x="2761" y="1777">K02992</text></g><g><circle class="fn" cx="2618" cy="1774" r="11"/><text x="2618" y="1779">K02961</text></g><g><circle class="fe" cx="2661" cy="1781" r="11"/><text x="2661" y="1786">K02988</text></g><g><circle class="fn" cx="2706" cy="1781" r="11"/><text x="2706" y="1786">K02945</text></g>
<g id="F-map05230"><circle class="fh" cx="2395" cy="1246" r="21.5"/><text class="fm" x="2395" y="1254">map05230</text></g>
<g id="F-map04922"><circle class="fh" cx="2327" cy="1295" r="20"/><text class="fm" x="2327" y="1303">map04922</text></g>
<g id="F-map00785"><circle class="fh" cx="2208" cy="1556" r="20"/><text class="fm" x="2208" y="1564">map00785</text></g>
<g id="F-map00780"><circle class="fh" cx="2884" cy="1178" r="20"/><text class="fm" x="2884" y="1186">map00780</text></g>
<g id="F-map03010"><circle class="fh" cx="2697" cy="1581" r="20"/><text class="fm" x="2697" y="1589">map03010</text></g>
</g>
<g id="F-legend">
<text class="s b" x="3012" y="1398" style="font-size:56px">KOs</text>
<circle class="fd" cx="3053" cy="1458" r="11"/><text class="s" x="3100" y="1469" style="font-size:46px">Depleted</text>
<circle class="fe" cx="3053" cy="1517" r="11"/><text class="s" x="3100" y="1533" style="font-size:46px">Enriched</text>
<circle class="fn" cx="3053" cy="1577" r="11"/><text class="s" x="3100" y="1593" style="font-size:46px">None</text>
<text class="s b" x="3006" y="1683" style="font-size:57px">Pathway</text>
<circle class="fh" cx="3047" cy="1743" r="11"/><text class="s" x="3094" y="1754" style="font-size:45px">Pathway</text>
</g>
</g>

<g id="panelG">
<g id="G-connectors">
<path class="ga" d="M249 2273L388 2278"/><path class="ga" d="M249 2302Q300 2260 388 2285"/><path class="ga" d="M249 2302Q320 2340 388 2288"/>
<path class="ga" d="M249 2745H388"/><path class="ga" d="M249 2819H388"/><path class="ga" d="M249 2963H388"/><path class="ga" d="M249 3059H388"/><path class="ga" d="M249 3153H388"/><path class="ga" d="M249 3238H388"/><path class="ga" d="M249 3319H388"/>
<path class="gy" d="M454 2708Q415 2640 450 2587"/><path class="ga" d="M454 2708Q490 2640 458 2587"/>
<path class="gi" d="M454 2010C401 2080 401 2180 454 2247"/><path class="gi" d="M454 2010C445 2080 445 2180 454 2247"/><path class="gi" d="M454 2010C486 2080 486 2180 454 2247"/><path class="gm" d="M454 2010C506 2080 506 2180 454 2247"/><path class="gm" d="M454 2010C423 2080 423 2180 454 2247"/><path class="gm" d="M454 2010C462 2080 462 2180 454 2247"/>
<path class="gi" d="M782 2274C700 2220 600 2220 522 2280"/><path class="gm" d="M782 2274C700 2243 600 2243 522 2280"/><path class="gi" d="M782 2274C700 2268 600 2268 522 2280"/><path class="gm" d="M782 2274C700 2287 600 2287 522 2280"/><path class="gi" d="M782 2274C700 2311 600 2311 522 2280"/><path class="gm" d="M782 2274C700 2333 600 2333 522 2280"/>
<path class="ga" d="M522 2268C700 2140 900 2000 1256 2139"/><path class="ga" d="M521 2273C680 2150 950 2020 1256 2201"/><path class="ga" d="M522 2313C800 2365 1000 2365 1240 2145"/><path class="ga" d="M522 2313C750 2370 1000 2400 1256 2197"/>
<path class="ga" d="M522 2313C700 2350 830 2400 930 2510"/><path class="ga" d="M524 2313C620 2430 720 2500 930 2512"/><path class="ga" d="M530 2283C680 2300 800 2350 928 2510"/>
<path class="ga" d="M524 2313C900 2320 1090 2420 1283 2672"/><path class="ga" d="M526 2316C700 2530 880 2660 1281 2672"/><path class="ga" d="M496 2316C600 2520 760 2760 1103 2824"/>
<path class="ga" d="M1063 2527L1132 2509"/><path class="ga" d="M974 2579L1107 2823"/><path class="ga" d="M1154 2525L1283 2665"/><path class="ga" d="M1266 2491L1330 2490"/><path class="ga" d="M1423 2491H1498"/><path class="ga" d="M1213 2859H1280"/><path class="ga" d="M1415 2859H1504"/><path class="ga" d="M1638 2859H1708"/><path class="ga" d="M1843 2859H1907"/><path class="ga" d="M1417 2703L1584 2702"/><path class="ga" d="M1674 2702L1845 2703"/>
<path class="ga" d="M502 2711L1258 2130"/><path class="ga" d="M505 2711L1258 2195"/><path class="ga" d="M522 2722L930 2570"/><path class="ga" d="M522 2742L1283 2702"/><path class="ga" d="M522 2756L1079 2852"/>
<path class="ga" d="M505 2786L1258 2135"/><path class="ga" d="M508 2786L1258 2205"/><path class="ga" d="M522 2790L930 2578"/><path class="ga" d="M522 2810L1283 2710"/><path class="ga" d="M522 2822L1079 2857"/>
<path class="ga" d="M490 2929L1262 2226"/><path class="ga" d="M495 2929L1270 2226"/><path class="ga" d="M492 2929L945 2578"/><path class="ga" d="M497 2929L945 2578"/><path class="ga" d="M522 2945L1283 2720"/><path class="ga" d="M522 2955L1079 2868"/>
<path class="ga" d="M488 3025L1275 2226"/><path class="ga" d="M493 3025L1283 2226"/><path class="ga" d="M488 3025L955 2578"/><path class="ga" d="M493 3025L955 2578"/><path class="ga" d="M522 3040L1283 2726"/><path class="ga" d="M522 3050L1079 2875"/>
<path class="ga" d="M485 3119L1285 2226"/><path class="ga" d="M490 3119L1290 2226"/><path class="ga" d="M485 3119L962 2578"/><path class="ga" d="M490 3119L962 2578"/><path class="ga" d="M522 3130L1283 2732"/><path class="ga" d="M522 3140L1079 2882"/>
<path class="ga" d="M485 3204L1293 2226"/><path class="ga" d="M490 3204L1296 2226"/><path class="ga" d="M485 3204L970 2578"/><path class="ga" d="M490 3204L970 2578"/><path class="ga" d="M522 3218L1290 2736"/><path class="ga" d="M522 3228L1085 2892"/>
<path class="ga" d="M480 3285L1298 2226"/><path class="ga" d="M486 3285L1300 2226"/><path class="ga" d="M480 3285L975 2578"/><path class="ga" d="M486 3285L975 2578"/><path class="ga" d="M505 3285L1299 2736"/><path class="ga" d="M510 3285L1097 2892"/>
<path class="ga" d="M1393 2129C1480 2200 1600 2170 1677 2140"/><path class="gy" d="M1393 2129C1480 2070 1540 2040 1677 2130"/><path class="ga" d="M1393 2182C1490 2230 1580 2210 1677 2146"/><path class="gy" d="M1393 2182C1480 2110 1530 2090 1677 2134"/>
<path class="gg" d="M1809 2129C1900 2175 1970 2193 2029 2193C2100 2193 2139 2165 2139 2129C2139 2095 2100 2065 2029 2065C1960 2065 1880 2095 1811 2127"/>
<path class="gi" d="M1446 2421Q1420 2425 1403 2460"/><path class="gm" d="M1446 2421Q1440 2455 1405 2460"/>
<path class="gy" d="M1633 2459C1670 2410 1690 2405 1747 2407"/><path class="ga" d="M1633 2459C1680 2465 1710 2450 1747 2410"/>
<path class="gy" d="M1633 2484C1670 2460 1700 2450 1747 2471"/><path class="gi" d="M1633 2484C1680 2500 1710 2500 1747 2472"/><path class="gy" d="M1633 2501C1670 2480 1710 2480 1747 2517"/><path class="gi" d="M1633 2501C1660 2530 1700 2530 1747 2525"/><path class="gy" d="M1633 2517C1680 2510 1710 2525 1747 2563"/><path class="gi" d="M1633 2517C1660 2560 1700 2565 1747 2563"/>
<path class="gy" d="M1881 2371C1920 2340 1950 2340 2002 2358"/><path class="ga" d="M1881 2371C1930 2400 1960 2395 2002 2360"/><path class="gy" d="M1881 2380C1920 2360 1960 2360 2002 2394"/><path class="gi" d="M1881 2380C1920 2420 1950 2415 2002 2396"/>
<path class="ga" d="M2136 2352H2234"/><path class="gi" d="M2136 2399H2234"/>
<path class="ga" d="M1925 2740C1918 2780 1925 2810 1958 2826"/><path class="go" d="M1925 2740C1960 2770 1965 2790 1960 2826"/>
<path class="gm" d="M1636 2870Q1680 2860 1708 2877"/><path class="gm" d="M1578 2907C1600 2885 1650 2855 1708 2877"/><path class="gi" d="M1578 2909C1620 2925 1660 2920 1708 2880"/>
<path class="gy" d="M2041 2859Q2070 2835 2108 2861"/><path class="gi" d="M2041 2861H2108" style="marker-end:none"/><path class="ga" d="M2041 2860Q2070 2885 2108 2861"/>
<path class="gy" d="M2242 2859Q2275 2835 2312 2861"/><path class="gi" d="M2241 2874L2312 2882" style="marker-end:none"/><path class="ga" d="M2242 2860Q2275 2885 2312 2864"/>
<path class="gi" d="M1907 2888C1800 2940 1740 2990 1640 3090"/><path class="ge" d="M1797 2624L1590 3083"/>
<path class="ga" d="M1637 3095L1968 3022"/><path class="gi" d="M1924 3066L1980 3040"/><path class="gi" d="M1928 3087L1993 3039"/><path class="gi" d="M1639 3112L1795 3106"/><path class="gi" d="M1639 3124L1795 3133"/>
<path class="gy" d="M2311 2883C2170 3010 2060 3110 1928 3116L1795 3112L1640 3097"/>
</g>
<g id="G-nodes" class="g">
<g id="K08774"><rect class="r" x="114" y="2277" width="132" height="66"/><text x="180" y="2323">K08774</text></g>
<g id="K04357"><rect class="r" x="114" y="2237" width="132" height="40"/><text x="180" y="2282">K04357</text></g>
<g id="K04361"><rect class="r" x="388" y="2247" width="132" height="66"/><text x="454" y="2292">K04361</text></g>
<g id="D01977"><circle class="gc" cx="454" cy="1964" r="44"/><text x="454" y="1974" style="font-size:27.5px">D01977</text></g>
<g id="D07907"><circle class="gc" cx="826" cy="2274" r="44"/><text x="826" y="2284" style="font-size:27.5px">D07907</text></g>
<g id="K05084"><rect class="r" x="388" y="2519" width="132" height="66"/><text x="454" y="2564">K05084</text></g>
<g id="K05460"><rect class="r" x="114" y="2712" width="132" height="66"/><text x="180" y="2757">K05460</text></g>
<g id="K05099"><rect class="r" x="388" y="2712" width="132" height="66"/><text x="454" y="2757">K05099</text></g>
<g id="K05459"><rect class="r" x="114" y="2786" width="132" height="66"/><text x="180" y="2831">K05459</text></g>
<g id="K05087"><rect class="r" x="388" y="2786" width="132" height="66"/><text x="454" y="2831">K05087</text></g>
<g id="K05448"><rect class="r" x="114" y="2930" width="132" height="66"/><text x="180" y="2975">K05448</text></g>
<g id="K05098"><rect class="r" x="388" y="2930" width="132" height="66"/><text x="454" y="2975">K05098</text></g>
<g id="K04359"><rect class="r" x="114" y="3026" width="132" height="66"/><text x="180" y="3071">K04359...</text></g>
<g id="K04363"><rect class="r" x="388" y="3026" width="132" height="66"/><text x="454" y="3071">K04363...</text></g>
<g id="K18497"><rect class="r" x="114" y="3120" width="132" height="66"/><text x="180" y="3165">K18497</text></g>
<g id="K05093"><rect class="r" x="388" y="3120" width="132" height="66"/><text x="454" y="3165">K05093...</text></g>
<g id="K05464"><rect class="r" x="114" y="3205" width="132" height="66"/><text x="180" y="3250">K05464</text></g>
<g id="K05115"><rect class="r" x="388" y="3205" width="132" height="66"/><text x="454" y="3250">K05115</text></g>
<g id="K05405"><rect class="r" x="114" y="3286" width="132" height="66"/><text x="180" y="3331">K05405</text></g>
<g id="K05055"><rect class="r" x="388" y="3286" width="132" height="66"/><text x="454" y="3331">K05055</text></g>
<g id="K09593"><rect class="r" x="930" y="2512" width="132" height="66"/><text x="996" y="2557">K09593</text></g>
<g id="K00922"><rect class="r" x="1132" y="2459" width="132" height="66"/><text x="1198" y="2504">K00922...</text></g>
<g id="K06279"><rect class="r" x="1079" y="2826" width="132" height="66"/><text x="1145" y="2871">K06279...</text></g>
<g id="K11217"><rect class="r" x="1258" y="2096" width="132" height="66"/><text x="1324" y="2141">K11217...</text></g>
<g id="K05704"><rect class="r" x="1258" y="2159" width="132" height="67"/><text x="1324" y="2205">K05704</text></g>
<g id="K04692"><rect class="r" x="1677" y="2096" width="132" height="66"/><text x="1743" y="2141">K04692</text></g>
<g id="K01110"><rect class="r" x="1417" y="2353" width="132" height="66"/><text x="1483" y="2398">K01110</text></g>
<g id="C05981"><circle class="gc" cx="1374" cy="2490" r="44"/><text x="1374" y="2500" style="font-size:27.5px">C05981</text></g>
<g id="K04456"><rect class="r" x="1498" y="2459" width="132" height="66"/><text x="1564" y="2504">K04456</text></g>
<g id="K07203"><rect class="r" x="1747" y="2344" width="132" height="66"/><text x="1813" y="2389">K07203</text></g>
<g id="K02158"><rect class="r" x="1747" y="2430" width="132" height="66"/><text x="1813" y="2476">K02158</text></g>
<g id="K03083"><rect class="r" x="1747" y="2491" width="132" height="66"/><text x="1813" y="2536">K03083</text></g>
<g id="K09408"><rect class="r" x="1747" y="2556" width="132" height="64"/><text x="1813" y="2600">K09408</text></g>
<g id="K04688"><rect class="r" x="2002" y="2319" width="132" height="66"/><text x="2068" y="2365">K04688</text></g>
<g id="K07205"><rect class="r" x="2002" y="2366" width="132" height="66"/><text x="2068" y="2412">K07205</text></g>
<g id="K02991"><rect class="r" x="2234" y="2319" width="132" height="66"/><text x="2300" y="2365">K02991</text></g>
<g id="K03259"><rect class="r" x="2234" y="2366" width="132" height="66"/><text x="2300" y="2412">K03259</text></g>
<g id="K01116"><rect class="r" x="1283" y="2670" width="132" height="66"/><text x="1349" y="2715">K01116...</text></g>
<g id="C00165"><circle class="gc" cx="1629" cy="2701" r="44"/><text x="1629" y="2711" style="font-size:27.5px">C00165</text></g>
<g id="K02677"><rect class="r" x="1845" y="2670" width="132" height="66"/><text x="1911" y="2715">K02677...</text></g>
<g id="K04364"><rect class="r" x="1280" y="2826" width="132" height="66"/><text x="1346" y="2871">K04364</text></g>
<g id="K03099"><rect class="r" x="1504" y="2826" width="132" height="66"/><text x="1570" y="2871">K03099</text></g>
<g id="K02833"><rect class="r" x="1708" y="2826" width="132" height="66"/><text x="1774" y="2871">K02833...</text></g>
<g id="K04365"><rect class="r" x="1907" y="2826" width="132" height="66"/><text x="1973" y="2871">K04365...</text></g>
<g id="K04368"><rect class="r" x="2108" y="2826" width="132" height="66"/><text x="2174" y="2871">K04368...</text></g>
<g id="K04371"><rect class="r" x="2312" y="2826" width="132" height="66"/><text x="2378" y="2871">K04371</text></g>
<g id="K08052"><rect class="r" x="1442" y="2893" width="132" height="66"/><text x="1508" y="2938">K08052</text></g>
<g id="K02159"><rect class="r" x="1968" y="2972" width="132" height="66"/><text x="2034" y="3017">K02159</text></g>
<g id="K16341"><rect class="r" x="1504" y="3085" width="132" height="66"/><text x="1570" y="3130">K16341</text></g>
<g id="K02161"><rect class="r" x="1795" y="3106" width="132" height="66"/><text x="1861" y="3152">K02161</text></g>
<g id="K04570"><rect class="r" x="1795" y="3068" width="132" height="38"/><text x="1861" y="3113">K04570</text></g>
</g>
<g id="G-legend">
<text class="s b" x="2581" y="2174" style="font-size:55px">Edge type</text>
<g style="stroke-width:4;stroke-linecap:round"><path d="M2594 2235H2701" stroke="#A6CEE3"/><path d="M2594 2303H2701" stroke="#7FC97F"/><path d="M2594 2371H2701" stroke="#BEAED4"/><path d="M2594 2439H2701" stroke="#FF7F00"/><path d="M2594 2507H2701" stroke="#1F78B4"/><path d="M2594 2574H2701" stroke="#810F7C"/><path d="M2594 2642H2701" stroke="#FFCC00"/></g>
<text class="s lg1" x="2749" y="2253">activation</text><text class="s lg1" x="2749" y="2316">binding/association</text><text class="s lg1" x="2749" y="2384">expression</text><text class="s lg1" x="2749" y="2458">indirect effect</text><text class="s lg1" x="2749" y="2525">inhibition</text><text class="s lg1" x="2749" y="2588">missing interaction</text><text class="s lg1" x="2749" y="2655">phosphorylation</text>
<circle class="gc" cx="2651" cy="2932" r="20"/><text class="s" x="2709" y="2949" style="font-size:55px">compound</text>
<rect class="r" x="2626" y="3003" width="56" height="28" style="stroke:#333"/><text class="s" x="2712" y="3031" style="font-size:55px">ortholog</text>
</g>
</g>
<text id="title" class="s b" x="870" y="3358" style="font-size:77.8px">EGFR tyrosine kinase inhibitor resistance</text>
</svg>
